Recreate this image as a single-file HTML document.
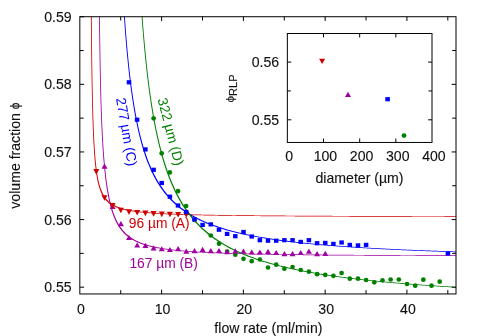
<!DOCTYPE html>
<html><head><meta charset="utf-8"><title>chart</title>
<style>
html,body{margin:0;padding:0;background:#fff;}
body{width:480px;height:336px;overflow:hidden;font-family:"Liberation Sans",sans-serif;}
svg{display:block;will-change:transform;}
text{font-family:"Liberation Sans",sans-serif;}
</style></head><body>
<svg width="480" height="336" viewBox="0 0 480 336">
<rect width="480" height="336" fill="#fff"/>

<path d="M90.89,16.72 L90.89,17.52 L90.90,18.32 L90.91,19.12 L90.91,19.91 L90.92,20.71 L90.93,21.51 L90.93,22.31 L90.94,23.10 L90.95,23.90 L90.95,24.70 L90.96,25.49 L90.97,26.29 L90.97,27.09 L90.98,27.89 L90.99,28.68 L91.00,29.48 L91.00,30.28 L91.01,31.07 L91.02,31.87 L91.03,32.67 L91.03,33.47 L91.04,34.26 L91.05,35.06 L91.06,35.86 L91.07,36.65 L91.07,37.45 L91.08,38.25 L91.09,39.05 L91.10,39.84 L91.11,40.64 L91.11,41.44 L91.12,42.23 L91.13,43.03 L91.14,43.83 L91.15,44.62 L91.16,45.42 L91.17,46.22 L91.17,47.01 L91.18,47.81 L91.19,48.61 L91.20,49.40 L91.21,50.20 L91.22,51.00 L91.23,51.80 L91.24,52.59 L91.25,53.39 L91.26,54.19 L91.27,54.98 L91.28,55.78 L91.29,56.57 L91.30,57.37 L91.31,58.17 L91.32,58.96 L91.33,59.76 L91.34,60.56 L91.35,61.35 L91.36,62.15 L91.37,62.95 L91.38,63.74 L91.39,64.54 L91.40,65.34 L91.41,66.13 L91.42,66.93 L91.43,67.72 L91.45,68.52 L91.46,69.32 L91.47,70.11 L91.48,70.91 L91.49,71.71 L91.50,72.50 L91.52,73.30 L91.53,74.09 L91.54,74.89 L91.55,75.69 L91.57,76.48 L91.58,77.28 L91.59,78.07 L91.61,78.87 L91.62,79.67 L91.63,80.46 L91.65,81.26 L91.66,82.05 L91.67,82.85 L91.69,83.65 L91.70,84.44 L91.72,85.24 L91.73,86.03 L91.74,86.83 L91.76,87.62 L91.77,88.42 L91.79,89.21 L91.80,90.01 L91.82,90.81 L91.84,91.60 L91.85,92.40 L91.87,93.19 L91.88,93.99 L91.90,94.78 L91.92,95.58 L91.93,96.37 L91.95,97.17 L91.97,97.96 L91.99,98.76 L92.00,99.55 L92.02,100.35 L92.04,101.14 L92.06,101.94 L92.08,102.73 L92.10,103.53 L92.12,104.32 L92.13,105.12 L92.15,105.91 L92.17,106.71 L92.19,107.50 L92.22,108.30 L92.24,109.09 L92.26,109.89 L92.28,110.68 L92.30,111.47 L92.32,112.27 L92.34,113.06 L92.37,113.86 L92.39,114.65 L92.41,115.45 L92.44,116.24 L92.46,117.03 L92.49,117.83 L92.51,118.62 L92.54,119.42 L92.56,120.21 L92.59,121.00 L92.61,121.80 L92.64,122.59 L92.67,123.38 L92.70,124.18 L92.72,124.97 L92.75,125.76 L92.78,126.56 L92.81,127.35 L92.84,128.14 L92.87,128.94 L92.90,129.73 L92.93,130.52 L92.97,131.32 L93.00,132.11 L93.03,132.90 L93.07,133.69 L93.10,134.49 L93.14,135.28 L93.17,136.07 L93.21,136.86 L93.25,137.66 L93.28,138.45 L93.32,139.24 L93.36,140.03 L93.40,140.82 L93.44,141.62 L93.48,142.41 L93.53,143.20 L93.57,143.99 L93.61,144.78 L93.66,145.57 L93.71,146.36 L93.75,147.15 L93.80,147.95 L93.85,148.74 L93.90,149.53 L93.95,150.32 L94.00,151.11 L94.06,151.90 L94.11,152.69 L94.17,153.48 L94.23,154.27 L94.29,155.05 L94.35,155.84 L94.41,156.63 L94.47,157.42 L94.54,158.21 L94.60,159.00 L94.67,159.79 L94.74,160.57 L94.81,161.36 L94.89,162.15 L94.96,162.93 L95.04,163.72 L95.12,164.51 L95.20,165.29 L95.29,166.08 L95.38,166.86 L95.47,167.65 L95.56,168.43 L95.65,169.22 L95.75,170.00 L95.85,170.78 L95.96,171.57 L96.07,172.35 L96.18,173.13 L96.29,173.91 L96.41,174.69 L96.54,175.47 L96.66,176.25 L96.79,177.03 L96.93,177.81 L97.07,178.58 L97.22,179.36 L97.37,180.13 L97.53,180.90 L97.70,181.68 L97.87,182.45 L98.05,183.22 L98.23,183.98 L98.43,184.75 L98.63,185.51 L98.84,186.27 L99.06,187.03 L99.29,187.79 L99.53,188.54 L99.78,189.29 L100.04,190.04 L100.32,190.78 L100.61,191.52 L100.91,192.25 L101.23,192.98 L101.56,193.70 L101.91,194.42 L102.28,195.13 L102.67,195.83 L103.07,196.51 L103.50,197.19 L103.94,197.86 L104.41,198.52 L104.89,199.16 L105.40,199.78 L105.93,200.39 L106.48,200.98 L107.05,201.55 L107.64,202.11 L108.25,202.64 L108.88,203.15 L109.52,203.64 L110.18,204.11 L110.86,204.56 L111.55,204.99 L112.25,205.40 L112.96,205.79 L113.68,206.16 L114.40,206.52 L115.14,206.85 L115.88,207.17 L116.63,207.48 L117.38,207.77 L118.14,208.04 L118.91,208.30 L119.67,208.55 L120.44,208.79 L121.21,209.02 L121.99,209.23 L122.77,209.44 L123.55,209.64 L124.33,209.83 L125.11,210.01 L125.90,210.18 L126.68,210.35 L127.47,210.51 L128.26,210.66 L129.05,210.80 L129.84,210.95 L130.63,211.08 L131.42,211.21 L132.21,211.34 L133.01,211.46 L133.80,211.57 L134.60,211.69 L135.39,211.79 L136.18,211.90 L136.98,212.00 L137.78,212.10 L138.57,212.19 L139.37,212.28 L140.16,212.37 L140.96,212.46 L141.76,212.54 L142.55,212.62 L143.35,212.70 L144.15,212.77 L144.95,212.85 L145.75,212.92 L146.54,212.99 L147.34,213.05 L148.14,213.12 L148.94,213.18 L149.74,213.24 L150.53,213.30 L151.33,213.36 L152.13,213.42 L152.93,213.48 L153.73,213.53 L154.53,213.58 L155.33,213.63 L156.13,213.68 L156.93,213.73 L157.72,213.78 L158.52,213.83 L159.32,213.87 L160.12,213.92 L160.92,213.96 L161.72,214.00 L162.52,214.04 L163.32,214.08 L164.12,214.12 L164.92,214.16 L165.72,214.20 L166.52,214.24 L167.32,214.27 L168.12,214.31 L168.92,214.34 L169.72,214.38 L170.51,214.41 L171.31,214.44 L172.11,214.48 L172.91,214.51 L173.71,214.54 L174.51,214.57 L175.31,214.60 L176.11,214.63 L176.91,214.66 L177.71,214.68 L178.51,214.71 L179.31,214.74 L180.11,214.76 L180.91,214.79 L181.71,214.82 L182.51,214.84 L183.31,214.86 L184.11,214.89 L184.91,214.91 L185.71,214.94 L186.51,214.96 L187.31,214.98 L188.11,215.00 L188.91,215.03 L189.71,215.05 L190.51,215.07 L191.31,215.09 L192.11,215.11 L192.91,215.13 L193.71,215.15 L194.51,215.17 L195.31,215.19 L196.11,215.21 L196.91,215.22 L197.71,215.24 L198.51,215.26 L199.31,215.28 L200.11,215.30 L200.91,215.31 L201.71,215.33 L202.51,215.35 L203.31,215.36 L204.11,215.38 L204.91,215.39 L205.71,215.41 L206.51,215.43 L207.31,215.44 L208.11,215.46 L208.91,215.47 L209.71,215.49 L210.51,215.50 L211.31,215.51 L212.11,215.53 L212.91,215.54 L213.71,215.56 L214.51,215.57 L215.31,215.58 L216.11,215.60 L216.91,215.61 L217.71,215.62 L218.51,215.63 L219.31,215.65 L220.11,215.66 L220.91,215.67 L221.71,215.68 L222.51,215.69 L223.31,215.71 L224.11,215.72 L224.91,215.73 L225.71,215.74 L226.51,215.75 L227.31,215.76 L228.11,215.77 L228.91,215.78 L229.71,215.80 L230.51,215.81 L231.31,215.82 L232.11,215.83 L232.91,215.84 L233.71,215.85 L234.51,215.86 L235.31,215.87 L236.11,215.88 L236.91,215.89 L237.71,215.89 L238.51,215.90 L239.31,215.91 L240.11,215.92 L240.91,215.93 L241.71,215.94 L242.51,215.95 L243.31,215.96 L244.11,215.97 L244.91,215.98 L245.71,215.98 L246.51,215.99 L247.31,216.00 L248.11,216.01 L248.91,216.02 L249.71,216.02 L250.51,216.03 L251.31,216.04 L252.11,216.05 L252.91,216.06 L253.71,216.06 L254.51,216.07 L255.31,216.08 L256.11,216.09 L256.91,216.09 L257.71,216.10 L258.51,216.11 L259.31,216.11 L260.11,216.12 L260.91,216.13 L261.71,216.14 L262.51,216.14 L263.31,216.15 L264.11,216.16 L264.91,216.16 L265.71,216.17 L266.51,216.18 L267.31,216.18 L268.11,216.19 L268.91,216.19 L269.71,216.20 L270.51,216.21 L271.31,216.21 L272.11,216.22 L272.91,216.23 L273.71,216.23 L274.51,216.24 L275.31,216.24 L276.11,216.25 L276.91,216.25 L277.71,216.26 L278.51,216.27 L279.31,216.27 L280.11,216.28 L280.91,216.28 L281.71,216.29 L282.51,216.29 L283.31,216.30 L284.11,216.30 L284.91,216.31 L285.71,216.32 L286.51,216.32 L287.31,216.33 L288.11,216.33 L288.91,216.34 L289.71,216.34 L290.51,216.35 L291.31,216.35 L292.11,216.36 L292.91,216.36 L293.71,216.37 L294.51,216.37 L295.31,216.38 L296.11,216.38 L296.91,216.38 L297.71,216.39 L298.51,216.39 L299.31,216.40 L300.11,216.40 L300.91,216.41 L301.71,216.41 L302.51,216.42 L303.31,216.42 L304.11,216.42 L304.91,216.43 L305.71,216.43 L306.51,216.44 L307.31,216.44 L308.11,216.45 L308.91,216.45 L309.71,216.45 L310.51,216.46 L311.31,216.46 L312.11,216.47 L312.91,216.47 L313.71,216.47 L314.51,216.48 L315.31,216.48 L316.11,216.49 L316.91,216.49 L317.71,216.49 L318.51,216.50 L319.31,216.50 L320.11,216.51 L320.91,216.51 L321.71,216.51 L322.51,216.52 L323.31,216.52 L324.11,216.52 L324.91,216.53 L325.71,216.53 L326.51,216.53 L327.31,216.54 L328.11,216.54 L328.91,216.54 L329.71,216.55 L330.51,216.55 L331.31,216.56 L332.11,216.56 L332.91,216.56 L333.71,216.57 L334.51,216.57 L335.31,216.57 L336.11,216.57 L336.91,216.58 L337.71,216.58 L338.51,216.58 L339.31,216.59 L340.11,216.59 L340.91,216.59 L341.71,216.60 L342.51,216.60 L343.31,216.60 L344.11,216.61 L344.91,216.61 L345.71,216.61 L346.51,216.62 L347.31,216.62 L348.11,216.62 L348.91,216.62 L349.71,216.63 L350.51,216.63 L351.31,216.63 L352.11,216.64 L352.91,216.64 L353.71,216.64 L354.51,216.64 L355.31,216.65 L356.11,216.65 L356.91,216.65 L357.71,216.66 L358.51,216.66 L359.31,216.66 L360.11,216.66 L360.91,216.67 L361.71,216.67 L362.51,216.67 L363.31,216.67 L364.11,216.68 L364.91,216.68 L365.71,216.68 L366.51,216.68 L367.31,216.69 L368.11,216.69 L368.91,216.69 L369.71,216.69 L370.51,216.70 L371.31,216.70 L372.11,216.70 L372.91,216.70 L373.71,216.71 L374.51,216.71 L375.31,216.71 L376.11,216.71 L376.91,216.72 L377.71,216.72 L378.51,216.72 L379.31,216.72 L380.11,216.73 L380.91,216.73 L381.71,216.73 L382.51,216.73 L383.31,216.73 L384.11,216.74 L384.91,216.74 L385.71,216.74 L386.51,216.74 L387.31,216.75 L388.11,216.75 L388.91,216.75 L389.71,216.75 L390.51,216.75 L391.31,216.76 L392.11,216.76 L392.91,216.76 L393.71,216.76 L394.51,216.76 L395.31,216.77 L396.11,216.77 L396.91,216.77 L397.71,216.77 L398.51,216.77 L399.31,216.78 L400.11,216.78 L400.91,216.78 L401.71,216.78 L402.51,216.78 L403.31,216.79 L404.11,216.79 L404.91,216.79 L405.71,216.79 L406.51,216.79 L407.31,216.80 L408.11,216.80 L408.91,216.80 L409.71,216.80 L410.51,216.80 L411.31,216.81 L412.11,216.81 L412.91,216.81 L413.71,216.81 L414.51,216.81 L415.31,216.82 L416.11,216.82 L416.91,216.82 L417.71,216.82 L418.51,216.82 L419.31,216.82 L420.11,216.83 L420.91,216.83 L421.71,216.83 L422.51,216.83 L423.31,216.83 L424.11,216.83 L424.91,216.84 L425.71,216.84 L426.51,216.84 L427.31,216.84 L428.11,216.84 L428.91,216.84 L429.71,216.85 L430.51,216.85 L431.31,216.85 L432.11,216.85 L432.91,216.85 L433.71,216.85 L434.51,216.86 L435.31,216.86 L436.11,216.86 L436.91,216.86 L437.71,216.86 L438.51,216.86 L439.31,216.87 L440.11,216.87 L440.91,216.87 L441.71,216.87 L442.51,216.87 L443.31,216.87 L444.11,216.87 L444.91,216.88 L445.71,216.88 L446.51,216.88 L447.31,216.88 L448.11,216.88 L448.91,216.88 L449.71,216.89 L450.51,216.89 L451.31,216.89 L452.11,216.89 L452.91,216.89 L453.71,216.89 L454.51,216.89 L455.31,216.90 L456.00,216.90 L456.00,216.21 L455.31,216.21 L454.51,216.21 L453.71,216.21 L452.91,216.21 L452.11,216.21 L451.31,216.21 L450.51,216.20 L449.71,216.20 L448.91,216.20 L448.11,216.20 L447.31,216.20 L446.51,216.20 L445.71,216.20 L444.91,216.19 L444.11,216.19 L443.31,216.19 L442.51,216.19 L441.71,216.19 L440.91,216.19 L440.11,216.19 L439.31,216.18 L438.51,216.18 L437.71,216.18 L436.91,216.18 L436.11,216.18 L435.31,216.18 L434.51,216.17 L433.71,216.17 L432.91,216.17 L432.11,216.17 L431.31,216.17 L430.51,216.17 L429.71,216.16 L428.91,216.16 L428.11,216.16 L427.31,216.16 L426.51,216.16 L425.71,216.16 L424.91,216.15 L424.11,216.15 L423.31,216.15 L422.51,216.15 L421.71,216.15 L420.91,216.15 L420.11,216.14 L419.31,216.14 L418.51,216.14 L417.71,216.14 L416.91,216.14 L416.11,216.13 L415.31,216.13 L414.51,216.13 L413.71,216.13 L412.91,216.13 L412.11,216.13 L411.31,216.12 L410.51,216.12 L409.71,216.12 L408.91,216.12 L408.11,216.12 L407.31,216.11 L406.51,216.11 L405.71,216.11 L404.91,216.11 L404.11,216.11 L403.31,216.10 L402.51,216.10 L401.71,216.10 L400.91,216.10 L400.11,216.10 L399.31,216.09 L398.51,216.09 L397.71,216.09 L396.91,216.09 L396.11,216.09 L395.31,216.08 L394.51,216.08 L393.71,216.08 L392.91,216.08 L392.11,216.08 L391.31,216.07 L390.51,216.07 L389.71,216.07 L388.91,216.07 L388.11,216.06 L387.31,216.06 L386.51,216.06 L385.71,216.06 L384.91,216.06 L384.11,216.05 L383.31,216.05 L382.51,216.05 L381.71,216.05 L380.91,216.04 L380.11,216.04 L379.31,216.04 L378.51,216.04 L377.71,216.03 L376.91,216.03 L376.11,216.03 L375.31,216.03 L374.51,216.03 L373.71,216.02 L372.91,216.02 L372.11,216.02 L371.31,216.02 L370.51,216.01 L369.71,216.01 L368.91,216.01 L368.11,216.01 L367.31,216.00 L366.51,216.00 L365.71,216.00 L364.91,216.00 L364.11,215.99 L363.31,215.99 L362.51,215.99 L361.71,215.98 L360.91,215.98 L360.11,215.98 L359.31,215.98 L358.51,215.97 L357.71,215.97 L356.91,215.97 L356.11,215.97 L355.31,215.96 L354.51,215.96 L353.71,215.96 L352.91,215.95 L352.11,215.95 L351.31,215.95 L350.51,215.95 L349.71,215.94 L348.91,215.94 L348.11,215.94 L347.31,215.93 L346.51,215.93 L345.71,215.93 L344.91,215.92 L344.11,215.92 L343.31,215.92 L342.51,215.92 L341.71,215.91 L340.91,215.91 L340.11,215.91 L339.31,215.90 L338.51,215.90 L337.71,215.90 L336.91,215.89 L336.11,215.89 L335.31,215.89 L334.51,215.88 L333.71,215.88 L332.91,215.88 L332.11,215.87 L331.31,215.87 L330.51,215.87 L329.71,215.86 L328.91,215.86 L328.11,215.86 L327.31,215.85 L326.51,215.85 L325.71,215.85 L324.91,215.84 L324.11,215.84 L323.31,215.83 L322.51,215.83 L321.71,215.83 L320.91,215.82 L320.11,215.82 L319.31,215.82 L318.51,215.81 L317.71,215.81 L316.91,215.80 L316.11,215.80 L315.31,215.80 L314.51,215.79 L313.71,215.79 L312.91,215.78 L312.11,215.78 L311.31,215.78 L310.51,215.77 L309.71,215.77 L308.91,215.76 L308.11,215.76 L307.31,215.76 L306.51,215.75 L305.71,215.75 L304.91,215.74 L304.11,215.74 L303.31,215.73 L302.51,215.73 L301.71,215.73 L300.91,215.72 L300.11,215.72 L299.31,215.71 L298.51,215.71 L297.71,215.70 L296.91,215.70 L296.11,215.69 L295.31,215.69 L294.51,215.68 L293.71,215.68 L292.91,215.67 L292.11,215.67 L291.31,215.66 L290.51,215.66 L289.71,215.65 L288.91,215.65 L288.11,215.64 L287.31,215.64 L286.51,215.63 L285.71,215.63 L284.91,215.62 L284.11,215.62 L283.31,215.61 L282.51,215.61 L281.71,215.60 L280.91,215.60 L280.11,215.59 L279.31,215.58 L278.51,215.58 L277.71,215.57 L276.91,215.57 L276.11,215.56 L275.31,215.55 L274.51,215.55 L273.71,215.54 L272.91,215.54 L272.11,215.53 L271.31,215.52 L270.51,215.52 L269.71,215.51 L268.91,215.51 L268.11,215.50 L267.31,215.49 L266.51,215.49 L265.71,215.48 L264.91,215.47 L264.11,215.47 L263.31,215.46 L262.51,215.45 L261.71,215.45 L260.91,215.44 L260.11,215.43 L259.31,215.42 L258.51,215.42 L257.71,215.41 L256.91,215.40 L256.11,215.40 L255.31,215.39 L254.51,215.38 L253.71,215.37 L252.91,215.36 L252.11,215.36 L251.31,215.35 L250.51,215.34 L249.71,215.33 L248.91,215.32 L248.11,215.32 L247.31,215.31 L246.51,215.30 L245.71,215.29 L244.91,215.28 L244.11,215.27 L243.31,215.27 L242.51,215.26 L241.71,215.25 L240.91,215.24 L240.11,215.23 L239.31,215.22 L238.51,215.21 L237.71,215.20 L236.91,215.19 L236.12,215.18 L235.32,215.17 L234.52,215.16 L233.72,215.15 L232.92,215.14 L232.12,215.13 L231.32,215.12 L230.52,215.11 L229.72,215.10 L228.92,215.09 L228.12,215.08 L227.32,215.07 L226.52,215.06 L225.72,215.04 L224.92,215.03 L224.12,215.02 L223.32,215.01 L222.52,215.00 L221.72,214.99 L220.92,214.97 L220.12,214.96 L219.32,214.95 L218.52,214.94 L217.72,214.92 L216.92,214.91 L216.12,214.90 L215.32,214.88 L214.52,214.87 L213.72,214.86 L212.92,214.84 L212.12,214.83 L211.32,214.81 L210.52,214.80 L209.72,214.78 L208.92,214.77 L208.12,214.75 L207.32,214.74 L206.52,214.72 L205.72,214.71 L204.92,214.69 L204.12,214.68 L203.32,214.66 L202.52,214.64 L201.72,214.63 L200.92,214.61 L200.12,214.59 L199.32,214.57 L198.52,214.55 L197.72,214.54 L196.92,214.52 L196.13,214.50 L195.33,214.48 L194.53,214.46 L193.73,214.44 L192.93,214.42 L192.13,214.40 L191.33,214.38 L190.53,214.36 L189.73,214.34 L188.93,214.31 L188.13,214.29 L187.33,214.27 L186.53,214.25 L185.73,214.22 L184.93,214.20 L184.13,214.17 L183.33,214.15 L182.53,214.12 L181.73,214.10 L180.93,214.07 L180.14,214.05 L179.34,214.02 L178.54,213.99 L177.74,213.96 L176.94,213.93 L176.14,213.91 L175.34,213.88 L174.54,213.84 L173.74,213.81 L172.94,213.78 L172.14,213.75 L171.34,213.72 L170.55,213.68 L169.75,213.65 L168.95,213.61 L168.15,213.58 L167.35,213.54 L166.55,213.50 L165.75,213.47 L164.95,213.43 L164.16,213.39 L163.36,213.35 L162.56,213.30 L161.76,213.26 L160.96,213.22 L160.16,213.17 L159.37,213.13 L158.57,213.08 L157.77,213.03 L156.97,212.98 L156.17,212.93 L155.38,212.88 L154.58,212.83 L153.78,212.77 L152.98,212.72 L152.19,212.66 L151.39,212.60 L150.59,212.54 L149.80,212.48 L149.00,212.41 L148.20,212.35 L147.41,212.28 L146.61,212.21 L145.82,212.14 L145.02,212.06 L144.22,211.99 L143.43,211.91 L142.64,211.83 L141.84,211.74 L141.05,211.66 L140.25,211.57 L139.46,211.47 L138.67,211.38 L137.88,211.28 L137.09,211.18 L136.29,211.07 L135.50,210.96 L134.71,210.85 L133.93,210.73 L133.14,210.61 L132.35,210.48 L131.57,210.35 L130.78,210.22 L130.00,210.07 L129.21,209.93 L128.43,209.77 L127.65,209.61 L126.88,209.44 L126.10,209.27 L125.33,209.09 L124.56,208.90 L123.79,208.70 L123.02,208.49 L122.26,208.28 L121.50,208.05 L120.75,207.82 L120.00,207.57 L119.25,207.31 L118.51,207.04 L117.78,206.75 L117.05,206.45 L116.33,206.14 L115.61,205.81 L114.91,205.47 L114.22,205.11 L113.53,204.74 L112.86,204.35 L112.20,203.94 L111.55,203.52 L110.92,203.07 L110.30,202.61 L109.69,202.14 L109.11,201.64 L108.54,201.13 L107.98,200.60 L107.44,200.06 L106.92,199.50 L106.42,198.92 L105.94,198.33 L105.47,197.73 L105.02,197.11 L104.59,196.48 L104.18,195.83 L103.78,195.18 L103.40,194.52 L103.04,193.84 L102.69,193.16 L102.35,192.47 L102.03,191.77 L101.73,191.06 L101.43,190.35 L101.15,189.63 L100.88,188.90 L100.62,188.17 L100.38,187.44 L100.14,186.70 L99.91,185.96 L99.70,185.22 L99.49,184.47 L99.29,183.72 L99.09,182.96 L98.91,182.20 L98.73,181.45 L98.56,180.68 L98.40,179.92 L98.24,179.16 L98.08,178.39 L97.94,177.62 L97.79,176.85 L97.66,176.08 L97.52,175.31 L97.40,174.54 L97.27,173.76 L97.15,172.99 L97.04,172.21 L96.92,171.43 L96.82,170.66 L96.71,169.88 L96.61,169.10 L96.51,168.32 L96.41,167.54 L96.32,166.76 L96.23,165.97 L96.14,165.19 L96.06,164.41 L95.97,163.63 L95.89,162.84 L95.81,162.06 L95.74,161.27 L95.66,160.49 L95.59,159.70 L95.52,158.92 L95.45,158.13 L95.38,157.35 L95.32,156.56 L95.25,155.77 L95.19,154.98 L95.13,154.20 L95.07,153.41 L95.01,152.62 L94.96,151.83 L94.90,151.05 L94.85,150.26 L94.79,149.47 L94.74,148.68 L94.69,147.89 L94.64,147.10 L94.59,146.31 L94.55,145.52 L94.50,144.73 L94.45,143.94 L94.41,143.15 L94.36,142.36 L94.32,141.57 L94.28,140.78 L94.24,139.99 L94.20,139.20 L94.16,138.41 L94.12,137.61 L94.08,136.82 L94.04,136.03 L94.01,135.24 L93.97,134.45 L93.94,133.66 L93.90,132.86 L93.87,132.07 L93.83,131.28 L93.80,130.49 L93.77,129.70 L93.74,128.90 L93.70,128.11 L93.67,127.32 L93.64,126.53 L93.61,125.73 L93.58,124.94 L93.56,124.15 L93.53,123.35 L93.50,122.56 L93.47,121.77 L93.45,120.97 L93.42,120.18 L93.39,119.39 L93.37,118.59 L93.34,117.80 L93.32,117.01 L93.29,116.21 L93.27,115.42 L93.24,114.63 L93.22,113.83 L93.20,113.04 L93.17,112.24 L93.15,111.45 L93.13,110.66 L93.11,109.86 L93.09,109.07 L93.07,108.27 L93.04,107.48 L93.02,106.69 L93.00,105.89 L92.98,105.10 L92.96,104.30 L92.94,103.51 L92.92,102.71 L92.91,101.92 L92.89,101.12 L92.87,100.33 L92.85,99.53 L92.83,98.74 L92.81,97.94 L92.80,97.15 L92.78,96.35 L92.76,95.56 L92.74,94.76 L92.73,93.97 L92.71,93.17 L92.69,92.38 L92.68,91.58 L92.66,90.79 L92.65,89.99 L92.63,89.20 L92.62,88.40 L92.60,87.61 L92.59,86.81 L92.57,86.02 L92.56,85.22 L92.54,84.43 L92.53,83.63 L92.51,82.83 L92.50,82.04 L92.49,81.24 L92.47,80.45 L92.46,79.65 L92.44,78.86 L92.43,78.06 L92.42,77.26 L92.41,76.47 L92.39,75.67 L92.38,74.88 L92.37,74.08 L92.35,73.29 L92.34,72.49 L92.33,71.69 L92.32,70.90 L92.31,70.10 L92.29,69.31 L92.28,68.51 L92.27,67.71 L92.26,66.92 L92.25,66.12 L92.24,65.32 L92.23,64.53 L92.22,63.73 L92.20,62.94 L92.19,62.14 L92.18,61.34 L92.17,60.55 L92.16,59.75 L92.15,58.95 L92.14,58.16 L92.13,57.36 L92.12,56.56 L92.11,55.77 L92.10,54.97 L92.09,54.17 L92.08,53.38 L92.07,52.58 L92.06,51.79 L92.05,50.99 L92.04,50.19 L92.03,49.40 L92.03,48.60 L92.02,47.80 L92.01,47.01 L92.00,46.21 L91.99,45.41 L91.98,44.61 L91.97,43.82 L91.96,43.02 L91.95,42.22 L91.95,41.43 L91.94,40.63 L91.93,39.83 L91.92,39.04 L91.91,38.24 L91.90,37.44 L91.90,36.65 L91.89,35.85 L91.88,35.05 L91.87,34.26 L91.87,33.46 L91.86,32.66 L91.85,31.86 L91.84,31.07 L91.83,30.27 L91.83,29.47 L91.82,28.68 L91.81,27.88 L91.81,27.08 L91.80,26.28 L91.79,25.49 L91.78,24.69 L91.78,23.89 L91.77,23.10 L91.76,22.30 L91.76,21.50 L91.75,20.70 L91.74,19.91 L91.74,19.11 L91.73,18.31 L91.72,17.51 L91.72,16.72Z" fill="#d00000" stroke="none"/>
<path d="M99.05,16.72 L99.06,17.52 L99.07,18.32 L99.08,19.12 L99.09,19.91 L99.09,20.71 L99.10,21.51 L99.11,22.31 L99.12,23.10 L99.13,23.90 L99.14,24.70 L99.15,25.50 L99.16,26.29 L99.17,27.09 L99.18,27.89 L99.19,28.68 L99.20,29.48 L99.21,30.28 L99.22,31.08 L99.23,31.87 L99.24,32.67 L99.25,33.47 L99.26,34.26 L99.27,35.06 L99.28,35.86 L99.29,36.66 L99.30,37.45 L99.31,38.25 L99.32,39.05 L99.33,39.84 L99.34,40.64 L99.35,41.44 L99.36,42.24 L99.37,43.03 L99.38,43.83 L99.40,44.63 L99.41,45.42 L99.42,46.22 L99.43,47.02 L99.44,47.81 L99.45,48.61 L99.46,49.41 L99.48,50.20 L99.49,51.00 L99.50,51.80 L99.51,52.59 L99.53,53.39 L99.54,54.19 L99.55,54.98 L99.56,55.78 L99.58,56.58 L99.59,57.37 L99.60,58.17 L99.62,58.97 L99.63,59.76 L99.64,60.56 L99.66,61.36 L99.67,62.15 L99.68,62.95 L99.70,63.75 L99.71,64.54 L99.73,65.34 L99.74,66.13 L99.75,66.93 L99.77,67.73 L99.78,68.52 L99.80,69.32 L99.81,70.12 L99.83,70.91 L99.84,71.71 L99.86,72.51 L99.88,73.30 L99.89,74.10 L99.91,74.89 L99.92,75.69 L99.94,76.49 L99.96,77.28 L99.97,78.08 L99.99,78.87 L100.01,79.67 L100.02,80.47 L100.04,81.26 L100.06,82.06 L100.08,82.85 L100.09,83.65 L100.11,84.44 L100.13,85.24 L100.15,86.04 L100.17,86.83 L100.19,87.63 L100.21,88.42 L100.23,89.22 L100.24,90.01 L100.26,90.81 L100.28,91.61 L100.30,92.40 L100.33,93.20 L100.35,93.99 L100.37,94.79 L100.39,95.58 L100.41,96.38 L100.43,97.17 L100.45,97.97 L100.48,98.76 L100.50,99.56 L100.52,100.36 L100.54,101.15 L100.57,101.95 L100.59,102.74 L100.61,103.54 L100.64,104.33 L100.66,105.13 L100.69,105.92 L100.71,106.72 L100.74,107.51 L100.76,108.31 L100.79,109.10 L100.82,109.90 L100.84,110.69 L100.87,111.49 L100.90,112.28 L100.92,113.08 L100.95,113.87 L100.98,114.66 L101.01,115.46 L101.04,116.25 L101.07,117.05 L101.10,117.84 L101.13,118.64 L101.16,119.43 L101.19,120.23 L101.22,121.02 L101.25,121.82 L101.29,122.61 L101.32,123.40 L101.35,124.20 L101.39,124.99 L101.42,125.79 L101.46,126.58 L101.49,127.38 L101.53,128.17 L101.56,128.96 L101.60,129.76 L101.64,130.55 L101.67,131.35 L101.71,132.14 L101.75,132.93 L101.79,133.73 L101.83,134.52 L101.87,135.31 L101.91,136.11 L101.95,136.90 L102.00,137.70 L102.04,138.49 L102.08,139.28 L102.13,140.08 L102.17,140.87 L102.22,141.66 L102.26,142.46 L102.31,143.25 L102.36,144.04 L102.40,144.84 L102.45,145.63 L102.50,146.42 L102.55,147.21 L102.60,148.01 L102.66,148.80 L102.71,149.59 L102.76,150.39 L102.82,151.18 L102.87,151.97 L102.93,152.76 L102.99,153.56 L103.04,154.35 L103.10,155.14 L103.16,155.93 L103.22,156.72 L103.28,157.52 L103.35,158.31 L103.41,159.10 L103.47,159.89 L103.54,160.68 L103.61,161.47 L103.67,162.27 L103.74,163.06 L103.81,163.85 L103.88,164.64 L103.96,165.43 L104.03,166.22 L104.10,167.01 L104.18,167.80 L104.26,168.59 L104.34,169.38 L104.42,170.17 L104.50,170.96 L104.58,171.75 L104.66,172.54 L104.75,173.33 L104.84,174.12 L104.93,174.91 L105.02,175.70 L105.11,176.49 L105.20,177.28 L105.30,178.06 L105.39,178.85 L105.49,179.64 L105.59,180.43 L105.69,181.22 L105.80,182.00 L105.91,182.79 L106.01,183.58 L106.12,184.36 L106.24,185.15 L106.35,185.93 L106.47,186.72 L106.59,187.50 L106.71,188.29 L106.83,189.07 L106.96,189.85 L107.09,190.64 L107.22,191.42 L107.35,192.20 L107.49,192.98 L107.63,193.77 L107.77,194.55 L107.92,195.33 L108.07,196.11 L108.22,196.89 L108.37,197.66 L108.53,198.44 L108.69,199.22 L108.86,199.99 L109.03,200.77 L109.20,201.54 L109.38,202.32 L109.56,203.09 L109.75,203.86 L109.94,204.63 L110.14,205.40 L110.34,206.17 L110.54,206.94 L110.75,207.70 L110.97,208.47 L111.19,209.23 L111.42,209.99 L111.65,210.75 L111.89,211.51 L112.13,212.27 L112.38,213.02 L112.64,213.77 L112.91,214.52 L113.18,215.27 L113.46,216.01 L113.75,216.75 L114.04,217.49 L114.35,218.23 L114.66,218.96 L114.98,219.69 L115.31,220.42 L115.65,221.14 L116.00,221.85 L116.36,222.57 L116.73,223.27 L117.11,223.98 L117.50,224.67 L117.91,225.36 L118.32,226.05 L118.75,226.72 L119.18,227.39 L119.64,228.06 L120.10,228.71 L120.57,229.36 L121.06,230.00 L121.56,230.62 L122.08,231.24 L122.60,231.85 L123.14,232.45 L123.69,233.03 L124.25,233.61 L124.83,234.17 L125.42,234.72 L126.02,235.26 L126.63,235.79 L127.25,236.30 L127.88,236.80 L128.52,237.29 L129.18,237.77 L129.84,238.23 L130.51,238.68 L131.19,239.11 L131.88,239.53 L132.57,239.94 L133.27,240.34 L133.98,240.73 L134.69,241.10 L135.42,241.46 L136.14,241.81 L136.87,242.15 L137.61,242.48 L138.35,242.80 L139.09,243.11 L139.84,243.40 L140.59,243.69 L141.35,243.97 L142.10,244.24 L142.86,244.50 L143.63,244.76 L144.39,245.00 L145.16,245.24 L145.93,245.47 L146.70,245.69 L147.48,245.91 L148.25,246.12 L149.03,246.32 L149.81,246.52 L150.59,246.71 L151.37,246.89 L152.15,247.07 L152.94,247.25 L153.72,247.42 L154.50,247.58 L155.29,247.74 L156.08,247.90 L156.87,248.05 L157.65,248.20 L158.44,248.34 L159.23,248.48 L160.02,248.61 L160.81,248.74 L161.61,248.87 L162.40,249.00 L163.19,249.12 L163.98,249.24 L164.77,249.35 L165.57,249.47 L166.36,249.58 L167.16,249.68 L167.95,249.79 L168.75,249.89 L169.54,249.99 L170.34,250.08 L171.13,250.18 L171.93,250.27 L172.72,250.36 L173.52,250.45 L174.31,250.54 L175.11,250.62 L175.91,250.70 L176.70,250.78 L177.50,250.86 L178.30,250.94 L179.10,251.01 L179.89,251.09 L180.69,251.16 L181.49,251.23 L182.29,251.30 L183.08,251.37 L183.88,251.43 L184.68,251.50 L185.48,251.56 L186.28,251.62 L187.07,251.69 L187.87,251.75 L188.67,251.80 L189.47,251.86 L190.27,251.92 L191.07,251.97 L191.86,252.03 L192.66,252.08 L193.46,252.13 L194.26,252.18 L195.06,252.23 L195.86,252.28 L196.66,252.33 L197.46,252.38 L198.26,252.43 L199.05,252.47 L199.85,252.52 L200.65,252.56 L201.45,252.60 L202.25,252.65 L203.05,252.69 L203.85,252.73 L204.65,252.77 L205.45,252.81 L206.25,252.85 L207.05,252.89 L207.85,252.93 L208.65,252.96 L209.45,253.00 L210.24,253.04 L211.04,253.07 L211.84,253.11 L212.64,253.14 L213.44,253.18 L214.24,253.21 L215.04,253.24 L215.84,253.27 L216.64,253.31 L217.44,253.34 L218.24,253.37 L219.04,253.40 L219.84,253.43 L220.64,253.46 L221.44,253.49 L222.24,253.51 L223.04,253.54 L223.84,253.57 L224.64,253.60 L225.44,253.62 L226.24,253.65 L227.04,253.68 L227.84,253.70 L228.64,253.73 L229.44,253.75 L230.24,253.78 L231.04,253.80 L231.84,253.83 L232.63,253.85 L233.43,253.87 L234.23,253.90 L235.03,253.92 L235.83,253.94 L236.63,253.96 L237.43,253.99 L238.23,254.01 L239.03,254.03 L239.83,254.05 L240.63,254.07 L241.43,254.09 L242.23,254.11 L243.03,254.13 L243.83,254.15 L244.63,254.17 L245.43,254.19 L246.23,254.21 L247.03,254.23 L247.83,254.25 L248.63,254.26 L249.43,254.28 L250.23,254.30 L251.03,254.32 L251.83,254.34 L252.63,254.35 L253.43,254.37 L254.23,254.39 L255.03,254.40 L255.83,254.42 L256.63,254.44 L257.43,254.45 L258.23,254.47 L259.03,254.48 L259.83,254.50 L260.63,254.51 L261.43,254.53 L262.23,254.54 L263.03,254.56 L263.83,254.57 L264.63,254.59 L265.43,254.60 L266.23,254.62 L267.03,254.63 L267.83,254.64 L268.63,254.66 L269.43,254.67 L270.23,254.68 L271.03,254.70 L271.83,254.71 L272.63,254.72 L273.43,254.74 L274.23,254.75 L275.03,254.76 L275.83,254.77 L276.63,254.79 L277.43,254.80 L278.23,254.81 L279.03,254.82 L279.83,254.83 L280.63,254.85 L281.43,254.86 L282.23,254.87 L283.03,254.88 L283.83,254.89 L284.63,254.90 L285.43,254.91 L286.23,254.92 L287.03,254.93 L287.83,254.95 L288.63,254.96 L289.43,254.97 L290.23,254.98 L291.03,254.99 L291.83,255.00 L292.63,255.01 L293.43,255.02 L294.23,255.03 L295.03,255.04 L295.83,255.05 L296.63,255.06 L297.43,255.07 L298.23,255.07 L299.03,255.08 L299.83,255.09 L300.63,255.10 L301.43,255.11 L302.23,255.12 L303.03,255.13 L303.83,255.14 L304.63,255.15 L305.43,255.16 L306.23,255.16 L307.03,255.17 L307.83,255.18 L308.63,255.19 L309.43,255.20 L310.23,255.21 L311.03,255.21 L311.83,255.22 L312.63,255.23 L313.43,255.24 L314.23,255.25 L315.03,255.25 L315.83,255.26 L316.63,255.27 L317.43,255.28 L318.23,255.28 L319.03,255.29 L319.83,255.30 L320.63,255.31 L321.43,255.31 L322.23,255.32 L323.03,255.33 L323.83,255.33 L324.63,255.34 L325.43,255.35 L326.23,255.35 L327.03,255.36 L327.83,255.37 L328.63,255.38 L329.43,255.38 L330.23,255.39 L331.03,255.39 L331.83,255.40 L332.63,255.41 L333.43,255.41 L334.23,255.42 L335.03,255.43 L335.83,255.43 L336.63,255.44 L337.43,255.45 L338.23,255.45 L339.03,255.46 L339.83,255.46 L340.63,255.47 L341.43,255.48 L342.23,255.48 L343.03,255.49 L343.83,255.49 L344.63,255.50 L345.43,255.50 L346.23,255.51 L347.03,255.52 L347.83,255.52 L348.63,255.53 L349.43,255.53 L350.23,255.54 L351.03,255.54 L351.83,255.55 L352.63,255.55 L353.43,255.56 L354.23,255.56 L355.03,255.57 L355.83,255.57 L356.63,255.58 L357.43,255.58 L358.23,255.59 L359.03,255.59 L359.83,255.60 L360.63,255.60 L361.43,255.61 L362.23,255.61 L363.03,255.62 L363.83,255.62 L364.63,255.63 L365.43,255.63 L366.23,255.64 L367.03,255.64 L367.83,255.65 L368.63,255.65 L369.43,255.66 L370.23,255.66 L371.03,255.67 L371.83,255.67 L372.63,255.67 L373.43,255.68 L374.23,255.68 L375.03,255.69 L375.83,255.69 L376.63,255.70 L377.43,255.70 L378.23,255.70 L379.03,255.71 L379.83,255.71 L380.63,255.72 L381.43,255.72 L382.23,255.73 L383.03,255.73 L383.83,255.73 L384.63,255.74 L385.43,255.74 L386.23,255.75 L387.03,255.75 L387.83,255.75 L388.63,255.76 L389.43,255.76 L390.23,255.77 L391.03,255.77 L391.83,255.77 L392.63,255.78 L393.43,255.78 L394.23,255.78 L395.03,255.79 L395.83,255.79 L396.63,255.79 L397.43,255.80 L398.23,255.80 L399.03,255.81 L399.83,255.81 L400.63,255.81 L401.43,255.82 L402.23,255.82 L403.03,255.82 L403.83,255.83 L404.63,255.83 L405.43,255.83 L406.23,255.84 L407.03,255.84 L407.83,255.84 L408.63,255.85 L409.43,255.85 L410.23,255.85 L411.03,255.86 L411.83,255.86 L412.63,255.86 L413.43,255.87 L414.23,255.87 L415.03,255.87 L415.83,255.88 L416.63,255.88 L417.43,255.88 L418.23,255.88 L419.03,255.89 L419.83,255.89 L420.63,255.89 L421.43,255.90 L422.23,255.90 L423.03,255.90 L423.83,255.91 L424.63,255.91 L425.43,255.91 L426.23,255.91 L427.03,255.92 L427.83,255.92 L428.63,255.92 L429.43,255.93 L430.23,255.93 L431.03,255.93 L431.83,255.93 L432.63,255.94 L433.43,255.94 L434.23,255.94 L435.03,255.95 L435.83,255.95 L436.63,255.95 L437.43,255.95 L438.23,255.96 L439.03,255.96 L439.83,255.96 L440.63,255.96 L441.43,255.97 L442.23,255.97 L443.03,255.97 L443.83,255.97 L444.63,255.98 L445.43,255.98 L446.23,255.98 L447.03,255.98 L447.83,255.99 L448.63,255.99 L449.43,255.99 L450.23,255.99 L451.03,256.00 L451.83,256.00 L452.63,256.00 L453.43,256.00 L454.23,256.01 L455.03,256.01 L455.83,256.01 L456.00,256.01 L456.00,255.33 L455.83,255.33 L455.03,255.33 L454.23,255.32 L453.43,255.32 L452.63,255.32 L451.83,255.32 L451.03,255.31 L450.23,255.31 L449.43,255.31 L448.63,255.31 L447.83,255.30 L447.03,255.30 L446.23,255.30 L445.43,255.30 L444.63,255.29 L443.83,255.29 L443.03,255.29 L442.23,255.29 L441.43,255.28 L440.63,255.28 L439.83,255.28 L439.03,255.28 L438.23,255.27 L437.43,255.27 L436.63,255.27 L435.83,255.26 L435.03,255.26 L434.23,255.26 L433.43,255.26 L432.63,255.25 L431.83,255.25 L431.03,255.25 L430.23,255.24 L429.43,255.24 L428.63,255.24 L427.83,255.24 L427.03,255.23 L426.23,255.23 L425.43,255.23 L424.63,255.22 L423.83,255.22 L423.03,255.22 L422.23,255.22 L421.43,255.21 L420.63,255.21 L419.83,255.21 L419.03,255.20 L418.23,255.20 L417.43,255.20 L416.63,255.19 L415.83,255.19 L415.03,255.19 L414.23,255.18 L413.43,255.18 L412.63,255.18 L411.83,255.18 L411.03,255.17 L410.23,255.17 L409.43,255.17 L408.63,255.16 L407.83,255.16 L407.03,255.16 L406.23,255.15 L405.43,255.15 L404.63,255.14 L403.83,255.14 L403.03,255.14 L402.23,255.13 L401.43,255.13 L400.63,255.13 L399.83,255.12 L399.03,255.12 L398.23,255.12 L397.43,255.11 L396.63,255.11 L395.83,255.11 L395.03,255.10 L394.23,255.10 L393.43,255.09 L392.63,255.09 L391.83,255.09 L391.03,255.08 L390.23,255.08 L389.43,255.08 L388.63,255.07 L387.83,255.07 L387.03,255.06 L386.23,255.06 L385.43,255.06 L384.63,255.05 L383.83,255.05 L383.03,255.04 L382.23,255.04 L381.43,255.04 L380.63,255.03 L379.83,255.03 L379.03,255.02 L378.23,255.02 L377.43,255.01 L376.63,255.01 L375.83,255.01 L375.03,255.00 L374.23,255.00 L373.43,254.99 L372.63,254.99 L371.83,254.98 L371.03,254.98 L370.23,254.97 L369.43,254.97 L368.63,254.97 L367.83,254.96 L367.03,254.96 L366.23,254.95 L365.43,254.95 L364.63,254.94 L363.83,254.94 L363.03,254.93 L362.23,254.93 L361.43,254.92 L360.63,254.92 L359.83,254.91 L359.03,254.91 L358.23,254.90 L357.43,254.90 L356.63,254.89 L355.83,254.89 L355.03,254.88 L354.23,254.88 L353.43,254.87 L352.63,254.87 L351.83,254.86 L351.03,254.86 L350.23,254.85 L349.43,254.84 L348.63,254.84 L347.83,254.83 L347.03,254.83 L346.23,254.82 L345.43,254.82 L344.63,254.81 L343.83,254.80 L343.03,254.80 L342.23,254.79 L341.43,254.79 L340.63,254.78 L339.83,254.77 L339.03,254.77 L338.23,254.76 L337.43,254.76 L336.63,254.75 L335.83,254.74 L335.03,254.74 L334.23,254.73 L333.43,254.72 L332.63,254.72 L331.83,254.71 L331.03,254.71 L330.23,254.70 L329.43,254.69 L328.63,254.69 L327.83,254.68 L327.03,254.67 L326.23,254.66 L325.43,254.66 L324.63,254.65 L323.83,254.64 L323.03,254.64 L322.23,254.63 L321.43,254.62 L320.63,254.61 L319.83,254.61 L319.03,254.60 L318.24,254.59 L317.44,254.58 L316.64,254.58 L315.84,254.57 L315.04,254.56 L314.24,254.55 L313.44,254.55 L312.64,254.54 L311.84,254.53 L311.04,254.52 L310.24,254.51 L309.44,254.51 L308.64,254.50 L307.84,254.49 L307.04,254.48 L306.24,254.47 L305.44,254.46 L304.64,254.45 L303.84,254.45 L303.04,254.44 L302.24,254.43 L301.44,254.42 L300.64,254.41 L299.84,254.40 L299.04,254.39 L298.24,254.38 L297.44,254.37 L296.64,254.36 L295.84,254.35 L295.04,254.34 L294.24,254.33 L293.44,254.32 L292.64,254.31 L291.84,254.30 L291.04,254.29 L290.24,254.28 L289.44,254.27 L288.64,254.26 L287.84,254.25 L287.04,254.24 L286.24,254.23 L285.44,254.22 L284.64,254.21 L283.84,254.19 L283.04,254.18 L282.24,254.17 L281.44,254.16 L280.64,254.15 L279.84,254.14 L279.04,254.13 L278.24,254.11 L277.44,254.10 L276.64,254.09 L275.84,254.08 L275.04,254.06 L274.24,254.05 L273.44,254.04 L272.64,254.02 L271.84,254.01 L271.04,254.00 L270.24,253.99 L269.44,253.97 L268.64,253.96 L267.84,253.94 L267.04,253.93 L266.24,253.92 L265.44,253.90 L264.64,253.89 L263.84,253.87 L263.04,253.86 L262.24,253.84 L261.44,253.83 L260.64,253.81 L259.84,253.80 L259.04,253.78 L258.24,253.76 L257.44,253.75 L256.65,253.73 L255.85,253.72 L255.05,253.70 L254.25,253.68 L253.45,253.67 L252.65,253.65 L251.85,253.63 L251.05,253.61 L250.25,253.59 L249.45,253.58 L248.65,253.56 L247.85,253.54 L247.05,253.52 L246.25,253.50 L245.45,253.48 L244.65,253.46 L243.85,253.44 L243.05,253.42 L242.25,253.40 L241.45,253.38 L240.65,253.36 L239.85,253.34 L239.05,253.32 L238.25,253.30 L237.45,253.27 L236.65,253.25 L235.85,253.23 L235.05,253.21 L234.26,253.18 L233.46,253.16 L232.66,253.14 L231.86,253.11 L231.06,253.09 L230.26,253.06 L229.46,253.04 L228.66,253.01 L227.86,252.99 L227.06,252.96 L226.26,252.93 L225.46,252.91 L224.66,252.88 L223.86,252.85 L223.06,252.82 L222.26,252.79 L221.46,252.76 L220.67,252.73 L219.87,252.70 L219.07,252.67 L218.27,252.64 L217.47,252.61 L216.67,252.58 L215.87,252.55 L215.07,252.51 L214.27,252.48 L213.47,252.45 L212.67,252.41 L211.88,252.38 L211.08,252.34 L210.28,252.30 L209.48,252.27 L208.68,252.23 L207.88,252.19 L207.08,252.15 L206.28,252.11 L205.49,252.07 L204.69,252.03 L203.89,251.99 L203.09,251.95 L202.29,251.91 L201.49,251.86 L200.69,251.82 L199.90,251.77 L199.10,251.73 L198.30,251.68 L197.50,251.63 L196.70,251.58 L195.91,251.53 L195.11,251.48 L194.31,251.43 L193.51,251.38 L192.71,251.32 L191.92,251.27 L191.12,251.21 L190.32,251.16 L189.52,251.10 L188.73,251.04 L187.93,250.98 L187.13,250.92 L186.34,250.86 L185.54,250.79 L184.74,250.73 L183.95,250.66 L183.15,250.59 L182.35,250.52 L181.56,250.45 L180.76,250.38 L179.97,250.30 L179.17,250.23 L178.38,250.15 L177.58,250.07 L176.79,249.99 L175.99,249.91 L175.20,249.82 L174.40,249.73 L173.61,249.65 L172.81,249.55 L172.02,249.46 L171.23,249.37 L170.44,249.27 L169.64,249.17 L168.85,249.07 L168.06,248.96 L167.27,248.85 L166.48,248.74 L165.69,248.63 L164.90,248.51 L164.11,248.39 L163.32,248.27 L162.53,248.15 L161.74,248.02 L160.96,247.88 L160.17,247.75 L159.39,247.61 L158.60,247.46 L157.82,247.32 L157.04,247.16 L156.25,247.01 L155.47,246.85 L154.69,246.68 L153.92,246.51 L153.14,246.34 L152.36,246.16 L151.59,245.97 L150.82,245.78 L150.05,245.58 L149.28,245.38 L148.51,245.17 L147.75,244.95 L146.98,244.73 L146.22,244.50 L145.47,244.26 L144.71,244.02 L143.96,243.77 L143.21,243.51 L142.46,243.24 L141.72,242.96 L140.98,242.68 L140.25,242.38 L139.52,242.08 L138.79,241.77 L138.07,241.44 L137.36,241.11 L136.65,240.77 L135.94,240.41 L135.24,240.05 L134.55,239.67 L133.87,239.29 L133.19,238.89 L132.52,238.48 L131.86,238.06 L131.21,237.63 L130.56,237.18 L129.93,236.73 L129.30,236.26 L128.68,235.78 L128.07,235.29 L127.48,234.79 L126.89,234.28 L126.32,233.75 L125.75,233.22 L125.20,232.67 L124.65,232.11 L124.12,231.54 L123.60,230.97 L123.09,230.38 L122.59,229.78 L122.11,229.18 L121.63,228.56 L121.17,227.94 L120.72,227.30 L120.28,226.66 L119.84,226.01 L119.42,225.36 L119.02,224.70 L118.62,224.03 L118.23,223.35 L117.85,222.67 L117.48,221.98 L117.12,221.29 L116.77,220.59 L116.43,219.89 L116.10,219.18 L115.78,218.47 L115.46,217.75 L115.16,217.03 L114.86,216.31 L114.57,215.58 L114.29,214.85 L114.01,214.12 L113.74,213.38 L113.48,212.64 L113.23,211.90 L112.98,211.16 L112.74,210.41 L112.50,209.66 L112.27,208.91 L112.04,208.16 L111.82,207.40 L111.61,206.64 L111.40,205.89 L111.20,205.13 L111.00,204.36 L110.80,203.60 L110.61,202.84 L110.43,202.07 L110.24,201.30 L110.07,200.54 L109.89,199.77 L109.72,199.00 L109.56,198.23 L109.39,197.45 L109.24,196.68 L109.08,195.91 L108.93,195.13 L108.78,194.36 L108.63,193.58 L108.49,192.80 L108.35,192.03 L108.21,191.25 L108.08,190.47 L107.95,189.69 L107.82,188.91 L107.69,188.13 L107.57,187.35 L107.44,186.57 L107.33,185.79 L107.21,185.00 L107.09,184.22 L106.98,183.44 L106.87,182.66 L106.76,181.87 L106.66,181.09 L106.55,180.30 L106.45,179.52 L106.35,178.73 L106.25,177.95 L106.15,177.16 L106.06,176.38 L105.96,175.59 L105.87,174.80 L105.78,174.02 L105.69,173.23 L105.60,172.44 L105.52,171.65 L105.43,170.86 L105.35,170.08 L105.27,169.29 L105.19,168.50 L105.11,167.71 L105.03,166.92 L104.95,166.13 L104.88,165.34 L104.80,164.56 L104.73,163.77 L104.66,162.98 L104.59,162.19 L104.52,161.40 L104.45,160.61 L104.39,159.82 L104.32,159.03 L104.26,158.23 L104.19,157.44 L104.13,156.65 L104.07,155.86 L104.01,155.07 L103.95,154.28 L103.89,153.49 L103.83,152.70 L103.77,151.91 L103.71,151.12 L103.66,150.32 L103.60,149.53 L103.55,148.74 L103.50,147.95 L103.45,147.16 L103.39,146.36 L103.34,145.57 L103.29,144.78 L103.24,143.99 L103.20,143.20 L103.15,142.40 L103.10,141.61 L103.05,140.82 L103.01,140.03 L102.96,139.23 L102.92,138.44 L102.88,137.65 L102.83,136.85 L102.79,136.06 L102.75,135.27 L102.71,134.48 L102.67,133.68 L102.63,132.89 L102.59,132.10 L102.55,131.30 L102.51,130.51 L102.47,129.72 L102.43,128.92 L102.40,128.13 L102.36,127.34 L102.33,126.54 L102.29,125.75 L102.26,124.96 L102.22,124.16 L102.19,123.37 L102.15,122.57 L102.12,121.78 L102.09,120.99 L102.06,120.19 L102.02,119.40 L101.99,118.60 L101.96,117.81 L101.93,117.02 L101.90,116.22 L101.87,115.43 L101.84,114.63 L101.81,113.84 L101.78,113.04 L101.76,112.25 L101.73,111.46 L101.70,110.66 L101.67,109.87 L101.65,109.07 L101.62,108.28 L101.59,107.48 L101.57,106.69 L101.54,105.89 L101.52,105.10 L101.49,104.30 L101.47,103.51 L101.44,102.72 L101.42,101.92 L101.40,101.13 L101.37,100.33 L101.35,99.54 L101.33,98.74 L101.31,97.95 L101.28,97.15 L101.26,96.36 L101.24,95.56 L101.22,94.77 L101.20,93.97 L101.18,93.17 L101.15,92.38 L101.13,91.58 L101.11,90.79 L101.09,89.99 L101.07,89.20 L101.05,88.40 L101.03,87.61 L101.02,86.81 L101.00,86.02 L100.98,85.22 L100.96,84.43 L100.94,83.63 L100.92,82.83 L100.90,82.04 L100.89,81.24 L100.87,80.45 L100.85,79.65 L100.83,78.86 L100.82,78.06 L100.80,77.26 L100.78,76.47 L100.77,75.67 L100.75,74.88 L100.73,74.08 L100.72,73.28 L100.70,72.49 L100.69,71.69 L100.67,70.90 L100.66,70.10 L100.64,69.30 L100.63,68.51 L100.61,67.71 L100.60,66.92 L100.58,66.12 L100.57,65.32 L100.55,64.53 L100.54,63.73 L100.52,62.93 L100.51,62.14 L100.50,61.34 L100.48,60.55 L100.47,59.75 L100.45,58.95 L100.44,58.16 L100.43,57.36 L100.42,56.56 L100.40,55.77 L100.39,54.97 L100.38,54.17 L100.36,53.38 L100.35,52.58 L100.34,51.78 L100.33,50.99 L100.31,50.19 L100.30,49.39 L100.29,48.60 L100.28,47.80 L100.27,47.00 L100.25,46.21 L100.24,45.41 L100.23,44.61 L100.22,43.82 L100.21,43.02 L100.20,42.22 L100.19,41.43 L100.18,40.63 L100.16,39.83 L100.15,39.04 L100.14,38.24 L100.13,37.44 L100.12,36.65 L100.11,35.85 L100.10,35.05 L100.09,34.25 L100.08,33.46 L100.07,32.66 L100.06,31.86 L100.05,31.07 L100.04,30.27 L100.03,29.47 L100.02,28.67 L100.01,27.88 L100.00,27.08 L99.99,26.28 L99.98,25.49 L99.97,24.69 L99.96,23.89 L99.95,23.09 L99.95,22.30 L99.94,21.50 L99.93,20.70 L99.92,19.90 L99.91,19.11 L99.90,18.31 L99.89,17.51 L99.88,16.72Z" fill="#a000a0" stroke="none"/>
<path d="M123.97,16.75 L124.02,17.55 L124.08,18.34 L124.13,19.14 L124.19,19.93 L124.24,20.73 L124.30,21.53 L124.36,22.32 L124.41,23.12 L124.47,23.91 L124.53,24.71 L124.59,25.50 L124.64,26.30 L124.70,27.09 L124.76,27.89 L124.82,28.69 L124.88,29.48 L124.94,30.28 L125.00,31.07 L125.06,31.87 L125.13,32.66 L125.19,33.46 L125.25,34.25 L125.31,35.05 L125.38,35.84 L125.44,36.64 L125.50,37.43 L125.57,38.23 L125.63,39.02 L125.70,39.82 L125.76,40.61 L125.83,41.41 L125.90,42.20 L125.96,43.00 L126.03,43.79 L126.10,44.59 L126.17,45.38 L126.24,46.17 L126.31,46.97 L126.38,47.76 L126.45,48.56 L126.52,49.35 L126.59,50.15 L126.66,50.94 L126.74,51.73 L126.81,52.53 L126.88,53.32 L126.96,54.12 L127.03,54.91 L127.11,55.70 L127.18,56.50 L127.26,57.29 L127.34,58.09 L127.41,58.88 L127.49,59.67 L127.57,60.47 L127.65,61.26 L127.73,62.05 L127.81,62.85 L127.89,63.64 L127.97,64.43 L128.06,65.23 L128.14,66.02 L128.22,66.81 L128.31,67.60 L128.39,68.40 L128.48,69.19 L128.56,69.98 L128.65,70.78 L128.74,71.57 L128.83,72.36 L128.92,73.15 L129.01,73.94 L129.10,74.74 L129.19,75.53 L129.28,76.32 L129.37,77.11 L129.47,77.90 L129.56,78.70 L129.66,79.49 L129.75,80.28 L129.85,81.07 L129.95,81.86 L130.05,82.65 L130.15,83.44 L130.25,84.23 L130.35,85.02 L130.45,85.82 L130.55,86.61 L130.65,87.40 L130.76,88.19 L130.86,88.98 L130.97,89.77 L131.08,90.56 L131.19,91.35 L131.29,92.14 L131.40,92.93 L131.52,93.71 L131.63,94.50 L131.74,95.29 L131.85,96.08 L131.97,96.87 L132.09,97.66 L132.20,98.45 L132.32,99.24 L132.44,100.02 L132.56,100.81 L132.68,101.60 L132.80,102.39 L132.93,103.17 L133.05,103.96 L133.18,104.75 L133.31,105.54 L133.44,106.32 L133.56,107.11 L133.70,107.89 L133.83,108.68 L133.96,109.47 L134.10,110.25 L134.23,111.04 L134.37,111.82 L134.51,112.61 L134.65,113.39 L134.79,114.18 L134.93,114.96 L135.08,115.74 L135.22,116.53 L135.37,117.31 L135.52,118.09 L135.67,118.88 L135.82,119.66 L135.98,120.44 L136.13,121.22 L136.29,122.00 L136.45,122.78 L136.61,123.57 L136.77,124.35 L136.93,125.13 L137.10,125.91 L137.26,126.69 L137.43,127.46 L137.60,128.24 L137.77,129.02 L137.95,129.80 L138.12,130.58 L138.30,131.35 L138.48,132.13 L138.66,132.91 L138.85,133.68 L139.03,134.46 L139.22,135.23 L139.41,136.00 L139.60,136.78 L139.80,137.55 L139.99,138.32 L140.19,139.10 L140.39,139.87 L140.60,140.64 L140.80,141.41 L141.01,142.18 L141.22,142.95 L141.44,143.71 L141.65,144.48 L141.87,145.25 L142.09,146.01 L142.31,146.78 L142.54,147.54 L142.77,148.31 L143.00,149.07 L143.23,149.83 L143.47,150.60 L143.71,151.36 L143.95,152.12 L144.20,152.87 L144.45,153.63 L144.70,154.39 L144.95,155.14 L145.21,155.90 L145.47,156.65 L145.74,157.41 L146.00,158.16 L146.28,158.91 L146.55,159.66 L146.83,160.40 L147.11,161.15 L147.39,161.90 L147.68,162.64 L147.98,163.38 L148.27,164.12 L148.57,164.86 L148.87,165.60 L149.18,166.34 L149.49,167.07 L149.81,167.81 L150.13,168.54 L150.45,169.27 L150.78,170.00 L151.11,170.72 L151.45,171.45 L151.79,172.17 L152.13,172.89 L152.48,173.61 L152.83,174.33 L153.19,175.04 L153.55,175.75 L153.92,176.46 L154.29,177.17 L154.67,177.87 L155.05,178.58 L155.44,179.28 L155.83,179.97 L156.23,180.67 L156.63,181.36 L157.03,182.05 L157.44,182.74 L157.86,183.42 L158.28,184.10 L158.71,184.78 L159.14,185.45 L159.58,186.12 L160.02,186.79 L160.47,187.45 L160.92,188.11 L161.38,188.77 L161.84,189.42 L162.31,190.07 L162.79,190.71 L163.26,191.36 L163.75,191.99 L164.24,192.63 L164.74,193.26 L165.24,193.88 L165.75,194.50 L166.26,195.12 L166.78,195.73 L167.30,196.34 L167.83,196.94 L168.36,197.54 L168.90,198.13 L169.45,198.72 L170.00,199.30 L170.55,199.88 L171.11,200.46 L171.68,201.03 L172.25,201.59 L172.82,202.15 L173.41,202.70 L173.99,203.25 L174.58,203.80 L175.18,204.33 L175.78,204.87 L176.38,205.39 L176.99,205.92 L177.61,206.43 L178.23,206.94 L178.85,207.45 L179.48,207.95 L180.11,208.45 L180.75,208.93 L181.39,209.42 L182.03,209.90 L182.68,210.37 L183.33,210.84 L183.99,211.30 L184.65,211.76 L185.31,212.21 L185.98,212.66 L186.65,213.10 L187.32,213.53 L188.00,213.96 L188.68,214.39 L189.37,214.81 L190.05,215.22 L190.74,215.63 L191.44,216.04 L192.13,216.44 L192.83,216.83 L193.54,217.22 L194.24,217.61 L194.95,217.99 L195.66,218.36 L196.37,218.73 L197.08,219.10 L197.80,219.46 L198.52,219.81 L199.24,220.16 L199.96,220.51 L200.69,220.85 L201.42,221.19 L202.15,221.52 L202.88,221.85 L203.61,222.18 L204.35,222.50 L205.09,222.81 L205.82,223.13 L206.56,223.43 L207.31,223.74 L208.05,224.04 L208.80,224.34 L209.54,224.63 L210.29,224.92 L211.04,225.20 L211.79,225.48 L212.54,225.76 L213.30,226.04 L214.05,226.31 L214.81,226.58 L215.56,226.84 L216.32,227.10 L217.08,227.36 L217.84,227.61 L218.60,227.86 L219.37,228.11 L220.13,228.36 L220.89,228.60 L221.66,228.84 L222.42,229.07 L223.19,229.30 L223.96,229.53 L224.73,229.76 L225.50,229.99 L226.27,230.21 L227.04,230.43 L227.81,230.64 L228.58,230.86 L229.35,231.07 L230.13,231.28 L230.90,231.48 L231.68,231.69 L232.45,231.89 L233.23,232.09 L234.01,232.28 L234.78,232.48 L235.56,232.67 L236.34,232.86 L237.12,233.05 L237.90,233.23 L238.68,233.41 L239.46,233.60 L240.24,233.77 L241.02,233.95 L241.80,234.13 L242.58,234.30 L243.36,234.47 L244.15,234.64 L244.93,234.81 L245.71,234.97 L246.50,235.14 L247.28,235.30 L248.07,235.46 L248.85,235.62 L249.64,235.77 L250.42,235.93 L251.21,236.08 L252.00,236.23 L252.78,236.38 L253.57,236.53 L254.36,236.68 L255.14,236.82 L255.93,236.97 L256.72,237.11 L257.51,237.25 L258.30,237.39 L259.08,237.53 L259.87,237.66 L260.66,237.80 L261.45,237.93 L262.24,238.07 L263.03,238.20 L263.82,238.33 L264.61,238.45 L265.40,238.58 L266.19,238.71 L266.98,238.83 L267.77,238.96 L268.57,239.08 L269.36,239.20 L270.15,239.32 L270.94,239.44 L271.73,239.56 L272.52,239.67 L273.32,239.79 L274.11,239.90 L274.90,240.01 L275.69,240.13 L276.49,240.24 L277.28,240.35 L278.07,240.46 L278.87,240.56 L279.66,240.67 L280.45,240.78 L281.25,240.88 L282.04,240.99 L282.83,241.09 L283.63,241.19 L284.42,241.29 L285.22,241.39 L286.01,241.49 L286.80,241.59 L287.60,241.69 L288.39,241.79 L289.19,241.88 L289.98,241.98 L290.78,242.07 L291.57,242.16 L292.37,242.26 L293.16,242.35 L293.96,242.44 L294.75,242.53 L295.55,242.62 L296.34,242.71 L297.14,242.80 L297.93,242.88 L298.73,242.97 L299.53,243.06 L300.32,243.14 L301.12,243.23 L301.91,243.31 L302.71,243.39 L303.51,243.47 L304.30,243.56 L305.10,243.64 L305.89,243.72 L306.69,243.80 L307.49,243.88 L308.28,243.95 L309.08,244.03 L309.88,244.11 L310.67,244.19 L311.47,244.26 L312.27,244.34 L313.06,244.41 L313.86,244.49 L314.66,244.56 L315.45,244.63 L316.25,244.71 L317.05,244.78 L317.84,244.85 L318.64,244.92 L319.44,244.99 L320.24,245.06 L321.03,245.13 L321.83,245.20 L322.63,245.27 L323.43,245.33 L324.22,245.40 L325.02,245.47 L325.82,245.53 L326.61,245.60 L327.41,245.66 L328.21,245.73 L329.01,245.79 L329.81,245.86 L330.60,245.92 L331.40,245.98 L332.20,246.04 L333.00,246.11 L333.79,246.17 L334.59,246.23 L335.39,246.29 L336.19,246.35 L336.99,246.41 L337.78,246.47 L338.58,246.53 L339.38,246.59 L340.18,246.64 L340.98,246.70 L341.77,246.76 L342.57,246.82 L343.37,246.87 L344.17,246.93 L344.97,246.98 L345.77,247.04 L346.56,247.09 L347.36,247.15 L348.16,247.20 L348.96,247.26 L349.76,247.31 L350.56,247.36 L351.35,247.42 L352.15,247.47 L352.95,247.52 L353.75,247.57 L354.55,247.62 L355.35,247.68 L356.14,247.73 L356.94,247.78 L357.74,247.83 L358.54,247.88 L359.34,247.93 L360.14,247.97 L360.94,248.02 L361.73,248.07 L362.53,248.12 L363.33,248.17 L364.13,248.22 L364.93,248.26 L365.73,248.31 L366.53,248.36 L367.33,248.40 L368.12,248.45 L368.92,248.49 L369.72,248.54 L370.52,248.58 L371.32,248.63 L372.12,248.67 L372.92,248.72 L373.72,248.76 L374.52,248.81 L375.31,248.85 L376.11,248.89 L376.91,248.94 L377.71,248.98 L378.51,249.02 L379.31,249.06 L380.11,249.11 L380.91,249.15 L381.71,249.19 L382.51,249.23 L383.30,249.27 L384.10,249.31 L384.90,249.35 L385.70,249.39 L386.50,249.43 L387.30,249.47 L388.10,249.51 L388.90,249.55 L389.70,249.59 L390.50,249.63 L391.30,249.67 L392.10,249.71 L392.89,249.75 L393.69,249.78 L394.49,249.82 L395.29,249.86 L396.09,249.90 L396.89,249.93 L397.69,249.97 L398.49,250.01 L399.29,250.04 L400.09,250.08 L400.89,250.12 L401.69,250.15 L402.49,250.19 L403.28,250.22 L404.08,250.26 L404.88,250.29 L405.68,250.33 L406.48,250.36 L407.28,250.40 L408.08,250.43 L408.88,250.47 L409.68,250.50 L410.48,250.54 L411.28,250.57 L412.08,250.60 L412.88,250.64 L413.68,250.67 L414.48,250.70 L415.27,250.73 L416.07,250.77 L416.87,250.80 L417.67,250.83 L418.47,250.86 L419.27,250.90 L420.07,250.93 L420.87,250.96 L421.67,250.99 L422.47,251.02 L423.27,251.05 L424.07,251.08 L424.87,251.11 L425.67,251.15 L426.47,251.18 L427.27,251.21 L428.07,251.24 L428.87,251.27 L429.67,251.30 L430.46,251.33 L431.26,251.36 L432.06,251.39 L432.86,251.41 L433.66,251.44 L434.46,251.47 L435.26,251.50 L436.06,251.53 L436.86,251.56 L437.66,251.59 L438.46,251.61 L439.26,251.64 L440.06,251.67 L440.86,251.70 L441.66,251.73 L442.46,251.75 L443.26,251.78 L444.06,251.81 L444.86,251.84 L445.66,251.86 L446.46,251.89 L447.26,251.92 L448.06,251.94 L448.85,251.97 L449.65,252.00 L450.45,252.02 L451.25,252.05 L452.05,252.07 L452.85,252.10 L453.65,252.13 L454.45,252.15 L455.25,252.18 L455.99,252.20 L456.01,251.48 L455.27,251.46 L454.48,251.43 L453.68,251.41 L452.88,251.38 L452.08,251.36 L451.28,251.33 L450.48,251.30 L449.68,251.28 L448.88,251.25 L448.08,251.22 L447.28,251.20 L446.48,251.17 L445.68,251.14 L444.88,251.12 L444.08,251.09 L443.28,251.06 L442.48,251.03 L441.68,251.01 L440.88,250.98 L440.08,250.95 L439.28,250.92 L438.49,250.89 L437.69,250.87 L436.89,250.84 L436.09,250.81 L435.29,250.78 L434.49,250.75 L433.69,250.72 L432.89,250.69 L432.09,250.66 L431.29,250.63 L430.49,250.60 L429.69,250.57 L428.89,250.54 L428.09,250.51 L427.29,250.48 L426.49,250.45 L425.70,250.42 L424.90,250.39 L424.10,250.36 L423.30,250.33 L422.50,250.30 L421.70,250.27 L420.90,250.23 L420.10,250.20 L419.30,250.17 L418.50,250.14 L417.70,250.11 L416.90,250.07 L416.10,250.04 L415.30,250.01 L414.51,249.97 L413.71,249.94 L412.91,249.91 L412.11,249.87 L411.31,249.84 L410.51,249.81 L409.71,249.77 L408.91,249.74 L408.11,249.70 L407.31,249.67 L406.51,249.63 L405.71,249.60 L404.92,249.56 L404.12,249.53 L403.32,249.49 L402.52,249.46 L401.72,249.42 L400.92,249.38 L400.12,249.35 L399.32,249.31 L398.52,249.28 L397.72,249.24 L396.92,249.20 L396.13,249.16 L395.33,249.13 L394.53,249.09 L393.73,249.05 L392.93,249.01 L392.13,248.97 L391.33,248.93 L390.53,248.89 L389.73,248.86 L388.93,248.82 L388.14,248.78 L387.34,248.74 L386.54,248.70 L385.74,248.66 L384.94,248.62 L384.14,248.57 L383.34,248.53 L382.54,248.49 L381.75,248.45 L380.95,248.41 L380.15,248.37 L379.35,248.32 L378.55,248.28 L377.75,248.24 L376.95,248.20 L376.15,248.15 L375.36,248.11 L374.56,248.06 L373.76,248.02 L372.96,247.98 L372.16,247.93 L371.36,247.89 L370.56,247.84 L369.77,247.79 L368.97,247.75 L368.17,247.70 L367.37,247.66 L366.57,247.61 L365.77,247.56 L364.97,247.51 L364.18,247.47 L363.38,247.42 L362.58,247.37 L361.78,247.32 L360.98,247.27 L360.18,247.22 L359.39,247.17 L358.59,247.12 L357.79,247.07 L356.99,247.02 L356.19,246.97 L355.39,246.92 L354.60,246.87 L353.80,246.82 L353.00,246.77 L352.20,246.71 L351.40,246.66 L350.61,246.61 L349.81,246.55 L349.01,246.50 L348.21,246.45 L347.41,246.39 L346.62,246.34 L345.82,246.28 L345.02,246.22 L344.22,246.17 L343.42,246.11 L342.63,246.05 L341.83,246.00 L341.03,245.94 L340.23,245.88 L339.44,245.82 L338.64,245.76 L337.84,245.70 L337.04,245.64 L336.25,245.58 L335.45,245.52 L334.65,245.46 L333.85,245.40 L333.06,245.34 L332.26,245.28 L331.46,245.21 L330.66,245.15 L329.87,245.09 L329.07,245.02 L328.27,244.96 L327.48,244.89 L326.68,244.83 L325.88,244.76 L325.08,244.69 L324.29,244.62 L323.49,244.56 L322.69,244.49 L321.90,244.42 L321.10,244.35 L320.30,244.28 L319.51,244.21 L318.71,244.14 L317.91,244.07 L317.12,244.00 L316.32,243.92 L315.53,243.85 L314.73,243.78 L313.93,243.70 L313.14,243.63 L312.34,243.55 L311.54,243.47 L310.75,243.40 L309.95,243.32 L309.16,243.24 L308.36,243.16 L307.57,243.08 L306.77,243.00 L305.97,242.92 L305.18,242.84 L304.38,242.76 L303.59,242.68 L302.79,242.60 L302.00,242.51 L301.20,242.43 L300.41,242.34 L299.61,242.26 L298.82,242.17 L298.02,242.08 L297.23,241.99 L296.43,241.90 L295.64,241.81 L294.84,241.72 L294.05,241.63 L293.26,241.54 L292.46,241.45 L291.67,241.35 L290.87,241.26 L290.08,241.16 L289.29,241.07 L288.49,240.97 L287.70,240.87 L286.91,240.77 L286.11,240.67 L285.32,240.57 L284.53,240.47 L283.73,240.37 L282.94,240.27 L282.15,240.16 L281.36,240.06 L280.56,239.95 L279.77,239.84 L278.98,239.73 L278.19,239.63 L277.40,239.51 L276.60,239.40 L275.81,239.29 L275.02,239.18 L274.23,239.06 L273.44,238.95 L272.65,238.83 L271.86,238.71 L271.07,238.59 L270.28,238.47 L269.49,238.35 L268.70,238.23 L267.91,238.11 L267.12,237.98 L266.33,237.85 L265.54,237.73 L264.75,237.60 L263.96,237.47 L263.17,237.34 L262.39,237.20 L261.60,237.07 L260.81,236.93 L260.02,236.80 L259.24,236.66 L258.45,236.52 L257.66,236.38 L256.88,236.24 L256.09,236.09 L255.31,235.95 L254.52,235.80 L253.74,235.65 L252.95,235.50 L252.17,235.35 L251.38,235.19 L250.60,235.04 L249.82,234.88 L249.03,234.72 L248.25,234.56 L247.47,234.40 L246.69,234.24 L245.91,234.07 L245.12,233.90 L244.34,233.73 L243.56,233.56 L242.78,233.39 L242.01,233.21 L241.23,233.04 L240.45,232.86 L239.67,232.68 L238.89,232.49 L238.12,232.31 L237.34,232.12 L236.57,231.93 L235.79,231.74 L235.02,231.54 L234.24,231.35 L233.47,231.15 L232.70,230.95 L231.93,230.74 L231.15,230.54 L230.38,230.33 L229.61,230.12 L228.85,229.90 L228.08,229.69 L227.31,229.47 L226.54,229.25 L225.78,229.02 L225.01,228.80 L224.25,228.57 L223.49,228.33 L222.72,228.10 L221.96,227.86 L221.20,227.62 L220.44,227.37 L219.69,227.13 L218.93,226.88 L218.17,226.62 L217.42,226.37 L216.66,226.11 L215.91,225.84 L215.16,225.58 L214.41,225.31 L213.66,225.03 L212.92,224.75 L212.17,224.47 L211.43,224.19 L210.68,223.90 L209.94,223.61 L209.20,223.32 L208.46,223.02 L207.73,222.71 L206.99,222.41 L206.26,222.10 L205.53,221.78 L204.80,221.46 L204.07,221.14 L203.35,220.81 L202.62,220.48 L201.90,220.15 L201.18,219.81 L200.47,219.46 L199.75,219.12 L199.04,218.76 L198.33,218.41 L197.62,218.05 L196.91,217.68 L196.21,217.31 L195.51,216.93 L194.81,216.55 L194.12,216.17 L193.43,215.78 L192.74,215.38 L192.05,214.98 L191.37,214.58 L190.69,214.17 L190.01,213.76 L189.34,213.34 L188.67,212.91 L188.00,212.48 L187.34,212.05 L186.68,211.61 L186.02,211.17 L185.37,210.72 L184.72,210.26 L184.07,209.80 L183.43,209.34 L182.79,208.87 L182.16,208.39 L181.53,207.91 L180.91,207.42 L180.28,206.93 L179.67,206.44 L179.05,205.94 L178.45,205.43 L177.84,204.92 L177.24,204.40 L176.65,203.88 L176.06,203.35 L175.47,202.82 L174.89,202.28 L174.32,201.74 L173.75,201.19 L173.18,200.64 L172.62,200.09 L172.06,199.52 L171.51,198.96 L170.96,198.39 L170.42,197.81 L169.89,197.23 L169.35,196.65 L168.83,196.06 L168.31,195.46 L167.79,194.86 L167.28,194.26 L166.77,193.65 L166.27,193.04 L165.78,192.43 L165.29,191.81 L164.80,191.18 L164.32,190.56 L163.85,189.92 L163.38,189.29 L162.92,188.65 L162.46,188.01 L162.00,187.36 L161.55,186.71 L161.11,186.06 L160.67,185.40 L160.24,184.74 L159.81,184.07 L159.38,183.41 L158.97,182.74 L158.55,182.06 L158.14,181.39 L157.74,180.71 L157.34,180.02 L156.95,179.34 L156.56,178.65 L156.17,177.96 L155.79,177.27 L155.41,176.57 L155.04,175.87 L154.68,175.17 L154.31,174.47 L153.96,173.76 L153.60,173.06 L153.25,172.35 L152.91,171.63 L152.57,170.92 L152.23,170.20 L151.90,169.48 L151.57,168.76 L151.25,168.04 L150.93,167.32 L150.61,166.59 L150.30,165.86 L149.99,165.14 L149.69,164.40 L149.39,163.67 L149.09,162.94 L148.80,162.20 L148.51,161.46 L148.22,160.73 L147.94,159.99 L147.66,159.24 L147.38,158.50 L147.11,157.76 L146.84,157.01 L146.57,156.27 L146.31,155.52 L146.05,154.77 L145.79,154.02 L145.54,153.27 L145.29,152.52 L145.04,151.76 L144.80,151.01 L144.56,150.25 L144.32,149.50 L144.08,148.74 L143.85,147.98 L143.62,147.22 L143.39,146.46 L143.17,145.70 L142.94,144.94 L142.72,144.18 L142.51,143.41 L142.29,142.65 L142.08,141.88 L141.87,141.12 L141.66,140.35 L141.46,139.59 L141.25,138.82 L141.05,138.05 L140.85,137.28 L140.66,136.51 L140.46,135.74 L140.27,134.97 L140.08,134.20 L139.89,133.43 L139.71,132.66 L139.52,131.88 L139.34,131.11 L139.16,130.34 L138.98,129.56 L138.81,128.79 L138.64,128.01 L138.46,127.24 L138.29,126.46 L138.12,125.69 L137.96,124.91 L137.79,124.13 L137.63,123.35 L137.47,122.58 L137.31,121.80 L137.15,121.02 L136.99,120.24 L136.84,119.46 L136.68,118.68 L136.53,117.90 L136.38,117.12 L136.23,116.34 L136.08,115.56 L135.94,114.77 L135.79,113.99 L135.65,113.21 L135.51,112.43 L135.37,111.65 L135.23,110.86 L135.09,110.08 L134.96,109.30 L134.82,108.51 L134.69,107.73 L134.56,106.94 L134.42,106.16 L134.29,105.37 L134.17,104.59 L134.04,103.80 L133.91,103.02 L133.79,102.23 L133.66,101.45 L133.54,100.66 L133.42,99.87 L133.30,99.09 L133.18,98.30 L133.06,97.51 L132.94,96.73 L132.83,95.94 L132.71,95.15 L132.60,94.36 L132.48,93.58 L132.37,92.79 L132.26,92.00 L132.15,91.21 L132.04,90.42 L131.93,89.64 L131.83,88.85 L131.72,88.06 L131.61,87.27 L131.51,86.48 L131.41,85.69 L131.30,84.90 L131.20,84.11 L131.10,83.32 L131.00,82.53 L130.90,81.74 L130.80,80.95 L130.70,80.16 L130.61,79.37 L130.51,78.58 L130.42,77.79 L130.32,77.00 L130.23,76.21 L130.13,75.42 L130.04,74.63 L129.95,73.84 L129.86,73.05 L129.77,72.25 L129.68,71.46 L129.59,70.67 L129.50,69.88 L129.42,69.09 L129.33,68.30 L129.24,67.50 L129.16,66.71 L129.07,65.92 L128.99,65.13 L128.91,64.34 L128.82,63.54 L128.74,62.75 L128.66,61.96 L128.58,61.17 L128.50,60.37 L128.42,59.58 L128.34,58.79 L128.26,58.00 L128.19,57.20 L128.11,56.41 L128.03,55.62 L127.96,54.82 L127.88,54.03 L127.81,53.24 L127.73,52.44 L127.66,51.65 L127.58,50.86 L127.51,50.06 L127.44,49.27 L127.37,48.48 L127.30,47.68 L127.22,46.89 L127.15,46.09 L127.08,45.30 L127.02,44.51 L126.95,43.71 L126.88,42.92 L126.81,42.12 L126.74,41.33 L126.68,40.54 L126.61,39.74 L126.54,38.95 L126.48,38.15 L126.41,37.36 L126.35,36.56 L126.28,35.77 L126.22,34.98 L126.16,34.18 L126.09,33.39 L126.03,32.59 L125.97,31.80 L125.91,31.00 L125.85,30.21 L125.79,29.41 L125.73,28.62 L125.67,27.82 L125.61,27.03 L125.55,26.23 L125.49,25.44 L125.43,24.64 L125.37,23.85 L125.31,23.05 L125.26,22.26 L125.20,21.46 L125.14,20.67 L125.09,19.87 L125.03,19.08 L124.97,18.28 L124.92,17.48 L124.86,16.69Z" fill="#0000ff" stroke="none"/>
<path d="M141.59,16.75 L141.65,17.55 L141.71,18.35 L141.77,19.14 L141.83,19.94 L141.89,20.73 L141.95,21.53 L142.01,22.32 L142.07,23.12 L142.13,23.91 L142.20,24.71 L142.26,25.51 L142.32,26.30 L142.38,27.10 L142.45,27.89 L142.51,28.69 L142.58,29.48 L142.64,30.28 L142.71,31.07 L142.77,31.87 L142.84,32.66 L142.90,33.46 L142.97,34.25 L143.04,35.05 L143.10,35.84 L143.17,36.64 L143.24,37.43 L143.31,38.23 L143.38,39.02 L143.45,39.82 L143.52,40.61 L143.59,41.41 L143.66,42.20 L143.73,43.00 L143.80,43.79 L143.87,44.59 L143.94,45.38 L144.02,46.18 L144.09,46.97 L144.16,47.76 L144.24,48.56 L144.31,49.35 L144.39,50.15 L144.46,50.94 L144.54,51.74 L144.62,52.53 L144.69,53.32 L144.77,54.12 L144.85,54.91 L144.93,55.71 L145.01,56.50 L145.09,57.29 L145.17,58.09 L145.25,58.88 L145.33,59.67 L145.41,60.47 L145.49,61.26 L145.58,62.06 L145.66,62.85 L145.74,63.64 L145.83,64.44 L145.91,65.23 L146.00,66.02 L146.08,66.81 L146.17,67.61 L146.26,68.40 L146.34,69.19 L146.43,69.99 L146.52,70.78 L146.61,71.57 L146.70,72.36 L146.79,73.16 L146.88,73.95 L146.98,74.74 L147.07,75.53 L147.16,76.33 L147.26,77.12 L147.35,77.91 L147.45,78.70 L147.54,79.49 L147.64,80.29 L147.74,81.08 L147.83,81.87 L147.93,82.66 L148.03,83.45 L148.13,84.24 L148.23,85.03 L148.33,85.83 L148.44,86.62 L148.54,87.41 L148.64,88.20 L148.75,88.99 L148.85,89.78 L148.96,90.57 L149.07,91.36 L149.17,92.15 L149.28,92.94 L149.39,93.73 L149.50,94.52 L149.61,95.31 L149.72,96.10 L149.84,96.89 L149.95,97.68 L150.06,98.47 L150.18,99.26 L150.30,100.05 L150.41,100.84 L150.53,101.62 L150.65,102.41 L150.77,103.20 L150.89,103.99 L151.01,104.78 L151.13,105.57 L151.26,106.35 L151.38,107.14 L151.51,107.93 L151.63,108.72 L151.76,109.50 L151.89,110.29 L152.02,111.08 L152.15,111.86 L152.28,112.65 L152.41,113.44 L152.55,114.22 L152.68,115.01 L152.82,115.80 L152.95,116.58 L153.09,117.37 L153.23,118.15 L153.37,118.94 L153.51,119.72 L153.65,120.51 L153.80,121.29 L153.94,122.08 L154.09,122.86 L154.24,123.64 L154.38,124.43 L154.53,125.21 L154.69,125.99 L154.84,126.78 L154.99,127.56 L155.15,128.34 L155.30,129.12 L155.46,129.90 L155.62,130.69 L155.78,131.47 L155.94,132.25 L156.11,133.03 L156.27,133.81 L156.44,134.59 L156.61,135.37 L156.77,136.15 L156.95,136.93 L157.12,137.71 L157.29,138.48 L157.47,139.26 L157.64,140.04 L157.82,140.82 L158.00,141.59 L158.18,142.37 L158.37,143.15 L158.55,143.92 L158.74,144.70 L158.93,145.47 L159.12,146.25 L159.31,147.02 L159.50,147.79 L159.70,148.57 L159.90,149.34 L160.10,150.11 L160.30,150.88 L160.50,151.66 L160.71,152.43 L160.91,153.20 L161.12,153.97 L161.33,154.74 L161.55,155.50 L161.76,156.27 L161.98,157.04 L162.20,157.81 L162.42,158.57 L162.64,159.34 L162.87,160.10 L163.10,160.87 L163.33,161.63 L163.56,162.40 L163.80,163.16 L164.03,163.92 L164.27,164.68 L164.52,165.44 L164.76,166.20 L165.01,166.96 L165.26,167.72 L165.51,168.48 L165.76,169.23 L166.02,169.99 L166.28,170.74 L166.54,171.50 L166.81,172.25 L167.07,173.00 L167.34,173.75 L167.62,174.50 L167.89,175.25 L168.17,176.00 L168.45,176.75 L168.74,177.49 L169.02,178.24 L169.31,178.98 L169.61,179.72 L169.90,180.46 L170.20,181.20 L170.51,181.94 L170.81,182.68 L171.12,183.42 L171.43,184.15 L171.75,184.89 L172.07,185.62 L172.39,186.35 L172.71,187.08 L173.04,187.81 L173.37,188.53 L173.71,189.26 L174.05,189.98 L174.39,190.70 L174.74,191.42 L175.09,192.14 L175.44,192.86 L175.80,193.57 L176.16,194.29 L176.52,195.00 L176.89,195.71 L177.26,196.42 L177.64,197.12 L178.02,197.82 L178.40,198.53 L178.79,199.23 L179.18,199.92 L179.57,200.62 L179.97,201.31 L180.38,202.00 L180.78,202.69 L181.20,203.38 L181.61,204.06 L182.03,204.74 L182.45,205.42 L182.88,206.10 L183.32,206.77 L183.75,207.44 L184.19,208.11 L184.64,208.77 L185.09,209.44 L185.54,210.10 L186.00,210.75 L186.46,211.41 L186.93,212.06 L187.40,212.70 L187.87,213.35 L188.35,213.99 L188.83,214.63 L189.32,215.26 L189.81,215.90 L190.31,216.53 L190.81,217.15 L191.32,217.77 L191.83,218.39 L192.34,219.01 L192.86,219.62 L193.38,220.22 L193.91,220.83 L194.44,221.43 L194.98,222.02 L195.52,222.62 L196.06,223.21 L196.61,223.79 L197.16,224.37 L197.72,224.95 L198.28,225.52 L198.84,226.09 L199.41,226.66 L199.98,227.22 L200.56,227.78 L201.14,228.33 L201.72,228.88 L202.31,229.42 L202.91,229.96 L203.50,230.50 L204.10,231.03 L204.71,231.56 L205.31,232.08 L205.92,232.60 L206.54,233.12 L207.16,233.63 L207.78,234.14 L208.40,234.64 L209.03,235.14 L209.67,235.63 L210.30,236.12 L210.94,236.61 L211.58,237.09 L212.23,237.57 L212.87,238.04 L213.53,238.51 L214.18,238.97 L214.84,239.43 L215.50,239.89 L216.16,240.34 L216.83,240.78 L217.50,241.23 L218.17,241.67 L218.84,242.10 L219.52,242.53 L220.20,242.96 L220.88,243.38 L221.57,243.80 L222.25,244.21 L222.94,244.62 L223.63,245.03 L224.33,245.43 L225.02,245.83 L225.72,246.22 L226.42,246.61 L227.13,247.00 L227.83,247.38 L228.54,247.76 L229.25,248.14 L229.96,248.51 L230.67,248.88 L231.39,249.24 L232.10,249.60 L232.82,249.96 L233.54,250.31 L234.26,250.66 L234.99,251.00 L235.71,251.35 L236.44,251.69 L237.17,252.02 L237.90,252.35 L238.63,252.68 L239.36,253.01 L240.09,253.33 L240.83,253.65 L241.57,253.97 L242.30,254.28 L243.04,254.59 L243.78,254.89 L244.53,255.20 L245.27,255.50 L246.01,255.79 L246.76,256.09 L247.51,256.38 L248.25,256.67 L249.00,256.95 L249.75,257.24 L250.50,257.52 L251.26,257.79 L252.01,258.07 L252.76,258.34 L253.52,258.61 L254.27,258.87 L255.03,259.14 L255.79,259.40 L256.55,259.66 L257.31,259.91 L258.07,260.17 L258.83,260.42 L259.59,260.67 L260.35,260.91 L261.11,261.16 L261.88,261.40 L262.64,261.64 L263.41,261.88 L264.17,262.11 L264.94,262.34 L265.71,262.57 L266.48,262.80 L267.24,263.03 L268.01,263.25 L268.78,263.47 L269.55,263.69 L270.32,263.91 L271.10,264.13 L271.87,264.34 L272.64,264.55 L273.41,264.76 L274.19,264.97 L274.96,265.17 L275.73,265.38 L276.51,265.58 L277.29,265.78 L278.06,265.98 L278.84,266.18 L279.61,266.37 L280.39,266.56 L281.17,266.76 L281.95,266.94 L282.73,267.13 L283.50,267.32 L284.28,267.50 L285.06,267.69 L285.84,267.87 L286.62,268.05 L287.40,268.23 L288.19,268.40 L288.97,268.58 L289.75,268.75 L290.53,268.93 L291.31,269.10 L292.09,269.27 L292.88,269.43 L293.66,269.60 L294.44,269.77 L295.23,269.93 L296.01,270.09 L296.80,270.25 L297.58,270.41 L298.37,270.57 L299.15,270.73 L299.94,270.88 L300.72,271.04 L301.51,271.19 L302.29,271.34 L303.08,271.49 L303.87,271.64 L304.65,271.79 L305.44,271.94 L306.23,272.08 L307.01,272.23 L307.80,272.37 L308.59,272.52 L309.38,272.66 L310.17,272.80 L310.95,272.94 L311.74,273.07 L312.53,273.21 L313.32,273.35 L314.11,273.48 L314.90,273.62 L315.69,273.75 L316.48,273.88 L317.27,274.01 L318.06,274.14 L318.85,274.27 L319.64,274.40 L320.43,274.52 L321.22,274.65 L322.01,274.78 L322.80,274.90 L323.59,275.02 L324.38,275.14 L325.17,275.27 L325.96,275.39 L326.76,275.51 L327.55,275.62 L328.34,275.74 L329.13,275.86 L329.92,275.98 L330.71,276.09 L331.51,276.21 L332.30,276.32 L333.09,276.43 L333.88,276.54 L334.68,276.66 L335.47,276.77 L336.26,276.88 L337.05,276.98 L337.85,277.09 L338.64,277.20 L339.43,277.31 L340.23,277.41 L341.02,277.52 L341.81,277.62 L342.61,277.73 L343.40,277.83 L344.20,277.93 L344.99,278.03 L345.78,278.13 L346.58,278.23 L347.37,278.33 L348.17,278.43 L348.96,278.53 L349.75,278.63 L350.55,278.72 L351.34,278.82 L352.14,278.92 L352.93,279.01 L353.73,279.11 L354.52,279.20 L355.32,279.29 L356.11,279.39 L356.91,279.48 L357.70,279.57 L358.50,279.66 L359.29,279.75 L360.09,279.84 L360.88,279.93 L361.68,280.02 L362.47,280.10 L363.27,280.19 L364.06,280.28 L364.86,280.37 L365.66,280.45 L366.45,280.54 L367.25,280.62 L368.04,280.71 L368.84,280.79 L369.63,280.87 L370.43,280.95 L371.23,281.04 L372.02,281.12 L372.82,281.20 L373.61,281.28 L374.41,281.36 L375.21,281.44 L376.00,281.52 L376.80,281.60 L377.60,281.68 L378.39,281.75 L379.19,281.83 L379.99,281.91 L380.78,281.98 L381.58,282.06 L382.37,282.14 L383.17,282.21 L383.97,282.28 L384.77,282.36 L385.56,282.43 L386.36,282.51 L387.16,282.58 L387.95,282.65 L388.75,282.72 L389.55,282.79 L390.34,282.87 L391.14,282.94 L391.94,283.01 L392.73,283.08 L393.53,283.15 L394.33,283.22 L395.13,283.28 L395.92,283.35 L396.72,283.42 L397.52,283.49 L398.32,283.56 L399.11,283.62 L399.91,283.69 L400.71,283.76 L401.50,283.82 L402.30,283.89 L403.10,283.95 L403.90,284.02 L404.70,284.08 L405.49,284.15 L406.29,284.21 L407.09,284.27 L407.89,284.34 L408.68,284.40 L409.48,284.46 L410.28,284.52 L411.08,284.58 L411.87,284.65 L412.67,284.71 L413.47,284.77 L414.27,284.83 L415.07,284.89 L415.86,284.95 L416.66,285.01 L417.46,285.07 L418.26,285.12 L419.06,285.18 L419.85,285.24 L420.65,285.30 L421.45,285.36 L422.25,285.41 L423.05,285.47 L423.84,285.53 L424.64,285.58 L425.44,285.64 L426.24,285.70 L427.04,285.75 L427.83,285.81 L428.63,285.86 L429.43,285.92 L430.23,285.97 L431.03,286.03 L431.83,286.08 L432.62,286.13 L433.42,286.19 L434.22,286.24 L435.02,286.29 L435.82,286.35 L436.62,286.40 L437.41,286.45 L438.21,286.50 L439.01,286.55 L439.81,286.60 L440.61,286.66 L441.41,286.71 L442.21,286.76 L443.00,286.81 L443.80,286.86 L444.60,286.91 L445.40,286.96 L446.20,287.01 L447.00,287.06 L447.80,287.10 L448.59,287.15 L449.39,287.20 L450.19,287.25 L450.99,287.30 L451.79,287.35 L452.59,287.39 L453.39,287.44 L454.18,287.49 L454.98,287.53 L455.78,287.58 L455.98,287.59 L456.02,286.85 L455.83,286.83 L455.03,286.79 L454.23,286.74 L453.43,286.69 L452.63,286.65 L451.83,286.60 L451.03,286.55 L450.24,286.50 L449.44,286.45 L448.64,286.40 L447.84,286.35 L447.04,286.31 L446.24,286.26 L445.45,286.21 L444.65,286.16 L443.85,286.11 L443.05,286.06 L442.25,286.00 L441.45,285.95 L440.66,285.90 L439.86,285.85 L439.06,285.80 L438.26,285.75 L437.46,285.70 L436.67,285.64 L435.87,285.59 L435.07,285.54 L434.27,285.48 L433.47,285.43 L432.68,285.38 L431.88,285.32 L431.08,285.27 L430.28,285.21 L429.48,285.16 L428.69,285.10 L427.89,285.05 L427.09,284.99 L426.29,284.94 L425.49,284.88 L424.70,284.82 L423.90,284.77 L423.10,284.71 L422.30,284.65 L421.50,284.59 L420.71,284.54 L419.91,284.48 L419.11,284.42 L418.31,284.36 L417.52,284.30 L416.72,284.24 L415.92,284.18 L415.12,284.12 L414.33,284.06 L413.53,284.00 L412.73,283.94 L411.93,283.88 L411.14,283.82 L410.34,283.75 L409.54,283.69 L408.74,283.63 L407.95,283.57 L407.15,283.50 L406.35,283.44 L405.55,283.37 L404.76,283.31 L403.96,283.24 L403.16,283.18 L402.37,283.11 L401.57,283.05 L400.77,282.98 L399.97,282.92 L399.18,282.85 L398.38,282.78 L397.58,282.71 L396.79,282.64 L395.99,282.58 L395.19,282.51 L394.40,282.44 L393.60,282.37 L392.80,282.30 L392.01,282.23 L391.21,282.16 L390.41,282.09 L389.62,282.01 L388.82,281.94 L388.02,281.87 L387.23,281.80 L386.43,281.72 L385.63,281.65 L384.84,281.57 L384.04,281.50 L383.25,281.42 L382.45,281.35 L381.65,281.27 L380.86,281.20 L380.06,281.12 L379.27,281.04 L378.47,280.96 L377.67,280.89 L376.88,280.81 L376.08,280.73 L375.29,280.65 L374.49,280.57 L373.69,280.49 L372.90,280.40 L372.10,280.32 L371.31,280.24 L370.51,280.16 L369.72,280.07 L368.92,279.99 L368.13,279.91 L367.33,279.82 L366.54,279.74 L365.74,279.65 L364.95,279.56 L364.15,279.48 L363.36,279.39 L362.56,279.30 L361.77,279.21 L360.97,279.12 L360.18,279.03 L359.38,278.94 L358.59,278.85 L357.79,278.76 L357.00,278.67 L356.21,278.58 L355.41,278.48 L354.62,278.39 L353.82,278.29 L353.03,278.20 L352.24,278.10 L351.44,278.01 L350.65,277.91 L349.85,277.81 L349.06,277.71 L348.27,277.61 L347.47,277.51 L346.68,277.41 L345.89,277.31 L345.09,277.21 L344.30,277.11 L343.51,277.00 L342.72,276.90 L341.92,276.80 L341.13,276.69 L340.34,276.58 L339.55,276.48 L338.75,276.37 L337.96,276.26 L337.17,276.15 L336.38,276.04 L335.59,275.93 L334.79,275.82 L334.00,275.71 L333.21,275.60 L332.42,275.48 L331.63,275.37 L330.84,275.25 L330.05,275.14 L329.26,275.02 L328.46,274.90 L327.67,274.78 L326.88,274.66 L326.09,274.54 L325.30,274.42 L324.51,274.30 L323.72,274.17 L322.93,274.05 L322.14,273.92 L321.35,273.80 L320.57,273.67 L319.78,273.54 L318.99,273.41 L318.20,273.28 L317.41,273.15 L316.62,273.02 L315.83,272.89 L315.05,272.75 L314.26,272.62 L313.47,272.48 L312.68,272.34 L311.90,272.21 L311.11,272.07 L310.32,271.93 L309.53,271.78 L308.75,271.64 L307.96,271.50 L307.18,271.35 L306.39,271.21 L305.60,271.06 L304.82,270.91 L304.03,270.76 L303.25,270.61 L302.47,270.46 L301.68,270.30 L300.90,270.15 L300.11,269.99 L299.33,269.84 L298.55,269.68 L297.76,269.52 L296.98,269.36 L296.20,269.19 L295.42,269.03 L294.63,268.86 L293.85,268.70 L293.07,268.53 L292.29,268.36 L291.51,268.19 L290.73,268.02 L289.95,267.84 L289.17,267.67 L288.39,267.49 L287.61,267.31 L286.84,267.13 L286.06,266.95 L285.28,266.77 L284.50,266.58 L283.73,266.40 L282.95,266.21 L282.17,266.02 L281.40,265.83 L280.62,265.63 L279.85,265.44 L279.08,265.24 L278.30,265.04 L277.53,264.84 L276.76,264.64 L275.98,264.44 L275.21,264.23 L274.44,264.02 L273.67,263.81 L272.90,263.60 L272.13,263.39 L271.36,263.17 L270.59,262.95 L269.83,262.73 L269.06,262.51 L268.29,262.29 L267.53,262.06 L266.76,261.83 L266.00,261.60 L265.23,261.37 L264.47,261.14 L263.71,260.90 L262.95,260.66 L262.19,260.42 L261.43,260.18 L260.67,259.93 L259.91,259.68 L259.15,259.43 L258.40,259.18 L257.64,258.92 L256.89,258.67 L256.13,258.40 L255.38,258.14 L254.63,257.88 L253.87,257.61 L253.12,257.34 L252.38,257.06 L251.63,256.79 L250.88,256.51 L250.13,256.23 L249.39,255.94 L248.65,255.65 L247.90,255.36 L247.16,255.07 L246.42,254.77 L245.68,254.47 L244.95,254.17 L244.21,253.87 L243.47,253.56 L242.74,253.25 L242.01,252.93 L241.28,252.62 L240.55,252.30 L239.82,251.97 L239.09,251.65 L238.37,251.31 L237.65,250.98 L236.92,250.64 L236.20,250.30 L235.49,249.96 L234.77,249.61 L234.05,249.26 L233.34,248.91 L232.63,248.55 L231.92,248.19 L231.21,247.82 L230.51,247.46 L229.80,247.08 L229.10,246.71 L228.40,246.33 L227.71,245.95 L227.01,245.56 L226.32,245.17 L225.63,244.77 L224.94,244.38 L224.25,243.97 L223.57,243.57 L222.89,243.16 L222.21,242.75 L221.53,242.33 L220.86,241.91 L220.19,241.48 L219.52,241.05 L218.85,240.62 L218.19,240.18 L217.53,239.74 L216.87,239.29 L216.22,238.84 L215.57,238.39 L214.92,237.93 L214.27,237.47 L213.63,237.00 L212.99,236.53 L212.35,236.06 L211.72,235.58 L211.09,235.10 L210.46,234.61 L209.84,234.12 L209.22,233.62 L208.60,233.13 L207.99,232.62 L207.38,232.12 L206.77,231.60 L206.17,231.09 L205.57,230.57 L204.97,230.05 L204.38,229.52 L203.79,228.99 L203.21,228.45 L202.63,227.91 L202.05,227.37 L201.48,226.82 L200.91,226.27 L200.34,225.71 L199.78,225.15 L199.23,224.59 L198.67,224.02 L198.12,223.45 L197.58,222.88 L197.04,222.30 L196.50,221.72 L195.97,221.13 L195.44,220.54 L194.91,219.95 L194.39,219.35 L193.87,218.75 L193.36,218.15 L192.85,217.54 L192.35,216.93 L191.85,216.31 L191.35,215.70 L190.86,215.07 L190.37,214.45 L189.89,213.82 L189.41,213.19 L188.94,212.56 L188.46,211.92 L188.00,211.28 L187.54,210.64 L187.08,209.99 L186.62,209.34 L186.17,208.69 L185.73,208.04 L185.28,207.38 L184.85,206.72 L184.41,206.06 L183.98,205.39 L183.56,204.72 L183.14,204.05 L182.72,203.38 L182.30,202.70 L181.90,202.03 L181.49,201.35 L181.09,200.66 L180.69,199.98 L180.30,199.29 L179.91,198.60 L179.52,197.91 L179.14,197.21 L178.76,196.52 L178.38,195.82 L178.01,195.12 L177.64,194.42 L177.28,193.71 L176.92,193.01 L176.56,192.30 L176.21,191.59 L175.86,190.88 L175.51,190.16 L175.17,189.45 L174.83,188.73 L174.50,188.01 L174.16,187.29 L173.84,186.57 L173.51,185.85 L173.19,185.12 L172.87,184.40 L172.55,183.67 L172.24,182.94 L171.93,182.21 L171.62,181.48 L171.32,180.75 L171.02,180.01 L170.72,179.28 L170.43,178.54 L170.14,177.80 L169.85,177.06 L169.56,176.32 L169.28,175.58 L169.00,174.84 L168.72,174.09 L168.45,173.35 L168.18,172.60 L167.91,171.86 L167.64,171.11 L167.38,170.36 L167.12,169.61 L166.86,168.86 L166.60,168.11 L166.35,167.35 L166.10,166.60 L165.85,165.85 L165.61,165.09 L165.36,164.33 L165.12,163.58 L164.88,162.82 L164.65,162.06 L164.41,161.30 L164.18,160.54 L163.95,159.78 L163.72,159.02 L163.50,158.26 L163.27,157.50 L163.05,156.73 L162.83,155.97 L162.62,155.20 L162.40,154.44 L162.19,153.67 L161.98,152.91 L161.77,152.14 L161.56,151.37 L161.36,150.60 L161.16,149.84 L160.96,149.07 L160.76,148.30 L160.56,147.53 L160.36,146.76 L160.17,145.99 L159.98,145.21 L159.79,144.44 L159.60,143.67 L159.41,142.90 L159.23,142.12 L159.04,141.35 L158.86,140.58 L158.68,139.80 L158.50,139.03 L158.33,138.25 L158.15,137.47 L157.98,136.70 L157.81,135.92 L157.64,135.14 L157.47,134.37 L157.30,133.59 L157.13,132.81 L156.97,132.03 L156.80,131.25 L156.64,130.48 L156.48,129.70 L156.32,128.92 L156.16,128.14 L156.01,127.36 L155.85,126.58 L155.70,125.80 L155.55,125.01 L155.40,124.23 L155.25,123.45 L155.10,122.67 L154.95,121.89 L154.80,121.11 L154.66,120.32 L154.51,119.54 L154.37,118.76 L154.23,117.97 L154.09,117.19 L153.95,116.41 L153.81,115.62 L153.68,114.84 L153.54,114.05 L153.41,113.27 L153.27,112.48 L153.14,111.70 L153.01,110.91 L152.88,110.13 L152.75,109.34 L152.62,108.56 L152.49,107.77 L152.37,106.98 L152.24,106.20 L152.12,105.41 L151.99,104.63 L151.87,103.84 L151.75,103.05 L151.63,102.26 L151.51,101.48 L151.39,100.69 L151.27,99.90 L151.15,99.11 L151.04,98.33 L150.92,97.54 L150.81,96.75 L150.69,95.96 L150.58,95.17 L150.47,94.38 L150.36,93.60 L150.25,92.81 L150.14,92.02 L150.03,91.23 L149.92,90.44 L149.82,89.65 L149.71,88.86 L149.60,88.07 L149.50,87.28 L149.40,86.49 L149.29,85.70 L149.19,84.91 L149.09,84.12 L148.99,83.33 L148.89,82.54 L148.79,81.75 L148.69,80.96 L148.59,80.17 L148.49,79.38 L148.40,78.59 L148.30,77.80 L148.20,77.00 L148.11,76.21 L148.02,75.42 L147.92,74.63 L147.83,73.84 L147.74,73.05 L147.65,72.26 L147.55,71.46 L147.46,70.67 L147.37,69.88 L147.29,69.09 L147.20,68.30 L147.11,67.50 L147.02,66.71 L146.93,65.92 L146.85,65.13 L146.76,64.33 L146.68,63.54 L146.59,62.75 L146.51,61.96 L146.43,61.16 L146.34,60.37 L146.26,59.58 L146.18,58.79 L146.10,57.99 L146.02,57.20 L145.94,56.41 L145.86,55.61 L145.78,54.82 L145.70,54.03 L145.62,53.23 L145.54,52.44 L145.47,51.65 L145.39,50.85 L145.31,50.06 L145.24,49.27 L145.16,48.47 L145.09,47.68 L145.01,46.88 L144.94,46.09 L144.86,45.30 L144.79,44.50 L144.72,43.71 L144.65,42.91 L144.58,42.12 L144.50,41.33 L144.43,40.53 L144.36,39.74 L144.29,38.94 L144.22,38.15 L144.15,37.36 L144.09,36.56 L144.02,35.77 L143.95,34.97 L143.88,34.18 L143.81,33.38 L143.75,32.59 L143.68,31.79 L143.62,31.00 L143.55,30.20 L143.49,29.41 L143.42,28.61 L143.36,27.82 L143.29,27.02 L143.23,26.23 L143.17,25.43 L143.10,24.64 L143.04,23.84 L142.98,23.05 L142.92,22.25 L142.85,21.46 L142.79,20.66 L142.73,19.87 L142.67,19.07 L142.61,18.28 L142.55,17.48 L142.49,16.69Z" fill="#008000" stroke="none"/>
<g>
<circle cx="153.60" cy="118.30" r="2.35" fill="#008000"/>
<circle cx="161.70" cy="153.30" r="2.35" fill="#008000"/>
<circle cx="169.80" cy="172.40" r="2.35" fill="#008000"/>
<circle cx="178.00" cy="191.20" r="2.35" fill="#008000"/>
<circle cx="186.10" cy="206.00" r="2.35" fill="#008000"/>
<circle cx="194.50" cy="220.00" r="2.35" fill="#008000"/>
<circle cx="210.80" cy="235.50" r="2.35" fill="#008000"/>
<circle cx="219.00" cy="243.70" r="2.35" fill="#008000"/>
<circle cx="227.10" cy="251.70" r="2.35" fill="#008000"/>
<circle cx="235.30" cy="254.70" r="2.35" fill="#008000"/>
<circle cx="243.50" cy="258.80" r="2.35" fill="#008000"/>
<circle cx="251.70" cy="261.20" r="2.35" fill="#008000"/>
<circle cx="259.85" cy="259.50" r="2.35" fill="#008000"/>
<circle cx="268.00" cy="267.50" r="2.35" fill="#008000"/>
<circle cx="276.20" cy="264.70" r="2.35" fill="#008000"/>
<circle cx="284.40" cy="268.70" r="2.35" fill="#008000"/>
<circle cx="292.55" cy="267.00" r="2.35" fill="#008000"/>
<circle cx="300.70" cy="270.00" r="2.35" fill="#008000"/>
<circle cx="308.90" cy="271.70" r="2.35" fill="#008000"/>
<circle cx="317.10" cy="274.20" r="2.35" fill="#008000"/>
<circle cx="325.25" cy="274.90" r="2.35" fill="#008000"/>
<circle cx="333.40" cy="275.80" r="2.35" fill="#008000"/>
<circle cx="341.60" cy="273.00" r="2.35" fill="#008000"/>
<circle cx="349.80" cy="278.70" r="2.35" fill="#008000"/>
<circle cx="358.00" cy="278.70" r="2.35" fill="#008000"/>
<circle cx="366.10" cy="280.00" r="2.35" fill="#008000"/>
<circle cx="374.30" cy="282.30" r="2.35" fill="#008000"/>
<circle cx="382.50" cy="280.30" r="2.35" fill="#008000"/>
<circle cx="390.65" cy="279.50" r="2.35" fill="#008000"/>
<circle cx="398.80" cy="279.50" r="2.35" fill="#008000"/>
<circle cx="407.00" cy="284.00" r="2.35" fill="#008000"/>
<circle cx="415.20" cy="285.70" r="2.35" fill="#008000"/>
<circle cx="423.35" cy="279.70" r="2.35" fill="#008000"/>
<circle cx="431.50" cy="285.70" r="2.35" fill="#008000"/>
<circle cx="439.70" cy="281.70" r="2.35" fill="#008000"/>
<path d="M101.50,168.80 h6.00 l-3.00,-5.20 z" fill="#a000a0"/>
<path d="M109.60,209.10 h6.00 l-3.00,-5.20 z" fill="#a000a0"/>
<path d="M117.90,226.20 h6.00 l-3.00,-5.20 z" fill="#a000a0"/>
<path d="M126.00,240.10 h6.00 l-3.00,-5.20 z" fill="#a000a0"/>
<path d="M134.20,247.60 h6.00 l-3.00,-5.20 z" fill="#a000a0"/>
<path d="M142.40,247.90 h6.00 l-3.00,-5.20 z" fill="#a000a0"/>
<path d="M150.60,250.50 h6.00 l-3.00,-5.20 z" fill="#a000a0"/>
<path d="M158.75,251.35 h6.00 l-3.00,-5.20 z" fill="#a000a0"/>
<path d="M166.90,252.10 h6.00 l-3.00,-5.20 z" fill="#a000a0"/>
<path d="M175.10,251.30 h6.00 l-3.00,-5.20 z" fill="#a000a0"/>
<path d="M183.30,253.80 h6.00 l-3.00,-5.20 z" fill="#a000a0"/>
<path d="M191.50,253.30 h6.00 l-3.00,-5.20 z" fill="#a000a0"/>
<path d="M199.60,251.90 h6.00 l-3.00,-5.20 z" fill="#a000a0"/>
<path d="M207.80,253.30 h6.00 l-3.00,-5.20 z" fill="#a000a0"/>
<path d="M216.00,253.10 h6.00 l-3.00,-5.20 z" fill="#a000a0"/>
<path d="M224.10,254.30 h6.00 l-3.00,-5.20 z" fill="#a000a0"/>
<path d="M232.30,253.40 h6.00 l-3.00,-5.20 z" fill="#a000a0"/>
<path d="M240.50,253.80 h6.00 l-3.00,-5.20 z" fill="#a000a0"/>
<path d="M248.70,254.60 h6.00 l-3.00,-5.20 z" fill="#a000a0"/>
<path d="M256.85,254.60 h6.00 l-3.00,-5.20 z" fill="#a000a0"/>
<path d="M265.00,253.90 h6.00 l-3.00,-5.20 z" fill="#a000a0"/>
<path d="M273.20,255.10 h6.00 l-3.00,-5.20 z" fill="#a000a0"/>
<path d="M281.40,256.30 h6.00 l-3.00,-5.20 z" fill="#a000a0"/>
<path d="M289.55,256.30 h6.00 l-3.00,-5.20 z" fill="#a000a0"/>
<path d="M297.70,255.10 h6.00 l-3.00,-5.20 z" fill="#a000a0"/>
<path d="M305.90,253.80 h6.00 l-3.00,-5.20 z" fill="#a000a0"/>
<path d="M314.10,256.30 h6.00 l-3.00,-5.20 z" fill="#a000a0"/>
<path d="M322.25,255.90 h6.00 l-3.00,-5.20 z" fill="#a000a0"/>
<path d="M93.30,169.10 h6.00 l-3.00,5.60 z" fill="#d00000"/>
<path d="M101.50,195.20 h6.00 l-3.00,5.60 z" fill="#d00000"/>
<path d="M109.60,203.10 h6.00 l-3.00,5.60 z" fill="#d00000"/>
<path d="M117.80,207.70 h6.00 l-3.00,5.60 z" fill="#d00000"/>
<path d="M126.00,209.30 h6.00 l-3.00,5.60 z" fill="#d00000"/>
<path d="M134.20,210.00 h6.00 l-3.00,5.60 z" fill="#d00000"/>
<path d="M142.40,210.60 h6.00 l-3.00,5.60 z" fill="#d00000"/>
<path d="M150.60,211.10 h6.00 l-3.00,5.60 z" fill="#d00000"/>
<path d="M158.75,211.60 h6.00 l-3.00,5.60 z" fill="#d00000"/>
<path d="M166.90,211.70 h6.00 l-3.00,5.60 z" fill="#d00000"/>
<path d="M175.10,211.90 h6.00 l-3.00,5.60 z" fill="#d00000"/>
<path d="M183.30,212.10 h6.00 l-3.00,5.60 z" fill="#d00000"/>
<rect x="126.75" y="80.20" width="4.50" height="4.20" fill="#0000ff"/>
<rect x="134.85" y="117.60" width="4.50" height="4.20" fill="#0000ff"/>
<rect x="143.15" y="147.30" width="4.50" height="4.20" fill="#0000ff"/>
<rect x="151.35" y="167.70" width="4.50" height="4.20" fill="#0000ff"/>
<rect x="159.45" y="180.90" width="4.50" height="4.20" fill="#0000ff"/>
<rect x="167.65" y="194.60" width="4.50" height="4.20" fill="#0000ff"/>
<rect x="175.75" y="203.40" width="4.50" height="4.20" fill="#0000ff"/>
<rect x="183.95" y="209.90" width="4.50" height="4.20" fill="#0000ff"/>
<rect x="192.25" y="217.30" width="4.50" height="4.20" fill="#0000ff"/>
<rect x="200.35" y="222.80" width="4.50" height="4.20" fill="#0000ff"/>
<rect x="208.55" y="222.30" width="4.50" height="4.20" fill="#0000ff"/>
<rect x="216.75" y="227.60" width="4.50" height="4.20" fill="#0000ff"/>
<rect x="224.85" y="231.80" width="4.50" height="4.20" fill="#0000ff"/>
<rect x="233.05" y="234.10" width="4.50" height="4.20" fill="#0000ff"/>
<rect x="241.25" y="229.90" width="4.50" height="4.20" fill="#0000ff"/>
<rect x="249.45" y="234.40" width="4.50" height="4.20" fill="#0000ff"/>
<rect x="257.60" y="238.10" width="4.50" height="4.20" fill="#0000ff"/>
<rect x="265.75" y="238.60" width="4.50" height="4.20" fill="#0000ff"/>
<rect x="273.95" y="238.60" width="4.50" height="4.20" fill="#0000ff"/>
<rect x="282.15" y="238.10" width="4.50" height="4.20" fill="#0000ff"/>
<rect x="290.30" y="238.10" width="4.50" height="4.20" fill="#0000ff"/>
<rect x="298.45" y="239.80" width="4.50" height="4.20" fill="#0000ff"/>
<rect x="306.65" y="238.10" width="4.50" height="4.20" fill="#0000ff"/>
<rect x="314.85" y="241.10" width="4.50" height="4.20" fill="#0000ff"/>
<rect x="323.00" y="240.80" width="4.50" height="4.20" fill="#0000ff"/>
<rect x="331.15" y="241.80" width="4.50" height="4.20" fill="#0000ff"/>
<rect x="339.35" y="240.40" width="4.50" height="4.20" fill="#0000ff"/>
<rect x="347.55" y="242.80" width="4.50" height="4.20" fill="#0000ff"/>
<rect x="355.75" y="243.30" width="4.50" height="4.20" fill="#0000ff"/>
<rect x="363.85" y="242.80" width="4.50" height="4.20" fill="#0000ff"/>
<rect x="445.65" y="251.40" width="4.50" height="4.20" fill="#0000ff"/>
</g>
<g stroke="#000" stroke-width="1" fill="none">
<rect x="79.83" y="16.72" width="376.17" height="277.23"/>
</g>
<g stroke="#000" stroke-width="1" fill="none">
<path d="M120.72,293.95 v-3.80 M120.72,16.72 v3.80 M161.61,293.95 v-4.30 M161.61,16.72 v4.30 M202.49,293.95 v-3.80 M202.49,16.72 v3.80 M243.38,293.95 v-4.30 M243.38,16.72 v4.30 M284.27,293.95 v-3.80 M284.27,16.72 v3.80 M325.16,293.95 v-4.30 M325.16,16.72 v4.30 M366.05,293.95 v-3.80 M366.05,16.72 v3.80 M406.93,293.95 v-4.30 M406.93,16.72 v4.30 M447.82,293.95 v-3.80 M447.82,16.72 v3.80 M79.83,287.19 h4.30 M456.00,287.19 h-4.30 M79.83,253.38 h3.80 M456.00,253.38 h-3.80 M79.83,219.57 h4.30 M456.00,219.57 h-4.30 M79.83,185.76 h3.80 M456.00,185.76 h-3.80 M79.83,151.95 h4.30 M456.00,151.95 h-4.30 M79.83,118.15 h3.80 M456.00,118.15 h-3.80 M79.83,84.34 h4.30 M456.00,84.34 h-4.30 M79.83,50.53 h3.80 M456.00,50.53 h-3.80 M79.83,16.72 h4.30"/>
</g>
<g font-size="14.10" fill="#111" stroke="#111" stroke-width="0.12">
<text x="80.83" y="313.80" text-anchor="middle">0</text>
<text x="162.61" y="313.80" text-anchor="middle">10</text>
<text x="244.38" y="313.80" text-anchor="middle">20</text>
<text x="326.16" y="313.80" text-anchor="middle">30</text>
<text x="407.93" y="313.80" text-anchor="middle">40</text>
<text x="71.60" y="292.29" text-anchor="end">0.55</text>
<text x="71.60" y="224.67" text-anchor="end">0.56</text>
<text x="71.60" y="157.05" text-anchor="end">0.57</text>
<text x="71.60" y="89.44" text-anchor="end">0.58</text>
<text x="71.60" y="21.82" text-anchor="end">0.59</text>
<text x="268.4" y="332.6" text-anchor="middle">flow rate (ml/min)</text>
<text transform="translate(19.5,155.6) rotate(-90)" text-anchor="middle">volume fraction <tspan font-size="12" dy="-1">ϕ</tspan></text>
</g>
<g font-size="14.10">
<text font-size="13.8" x="128.8" y="228.2" fill="#d00000">96 µm (A)</text>
<text font-size="13.8" x="129.4" y="268.4" fill="#a000a0">167 µm (B)</text>
<text font-size="13.8" transform="translate(116.1,98.6) rotate(80.2)" fill="#0000ff">277 µm (C)</text>
<text font-size="13.8" transform="translate(157.6,99.3) rotate(75.5)" fill="#008000">322 µm (D)</text>
</g>
<rect x="287.35" y="33.50" width="144.65" height="108.95" fill="#fff" stroke="#000" stroke-width="1"/>
<path d="M323.51,142.45 v-3.90 M323.51,33.50 v3.90 M359.68,142.45 v-3.90 M359.68,33.50 v3.90 M395.84,142.45 v-3.90 M395.84,33.50 v3.90 M287.35,62.10 h3.90 M432.00,62.10 h-3.90 M287.35,90.95 h3.50 M432.00,90.95 h-3.50 M287.35,119.80 h3.90 M432.00,119.80 h-3.90" stroke="#000" stroke-width="1" fill="none"/>
<g font-size="14.10" fill="#111" stroke="#111" stroke-width="0.12">
<text x="289.25" y="161.20" text-anchor="middle">0</text>
<text x="325.41" y="161.20" text-anchor="middle">100</text>
<text x="361.57" y="161.20" text-anchor="middle">200</text>
<text x="397.74" y="161.20" text-anchor="middle">300</text>
<text x="433.90" y="161.20" text-anchor="middle">400</text>
<text x="279.20" y="66.90" text-anchor="end">0.56</text>
<text x="279.20" y="124.60" text-anchor="end">0.55</text>
<text x="359.5" y="182.5" text-anchor="middle">diameter (µm)</text>
<text transform="translate(233.5,102.6) rotate(-90)"><tspan font-size="11.8">ϕ</tspan><tspan font-size="11.1" dy="3.8">RLP</tspan></text>
</g>
<path d="M319.10,58.80 h6.00 l-3.00,5.20 z" fill="#d00000"/>
<path d="M345.00,96.90 h6.00 l-3.00,-5.20 z" fill="#a000a0"/>
<rect x="385.30" y="97.10" width="4.60" height="4.20" fill="#0000ff"/>
<circle cx="404.00" cy="135.60" r="2.40" fill="#008000"/>
</svg></body></html>
